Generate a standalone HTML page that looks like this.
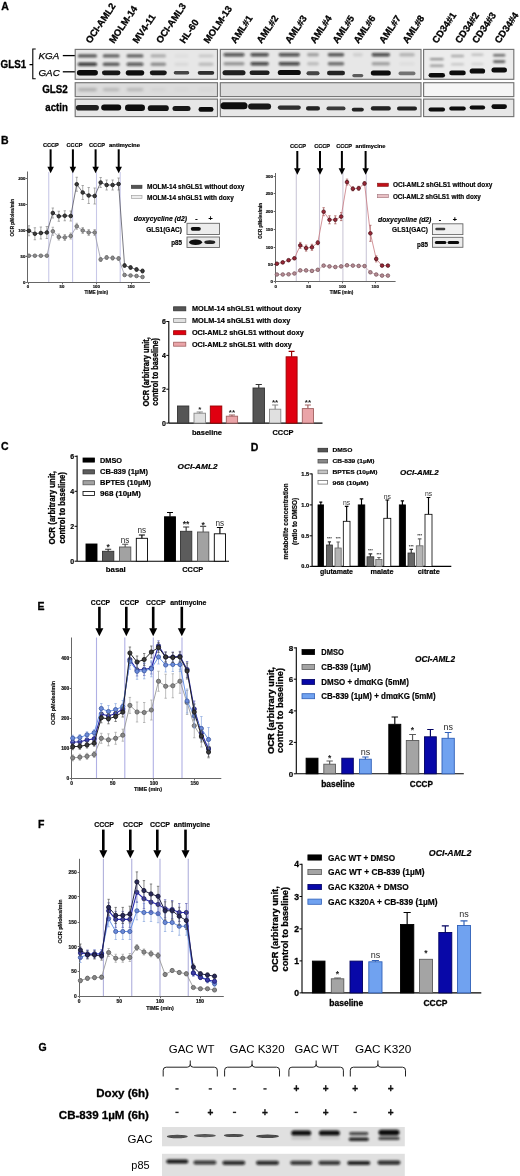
<!DOCTYPE html>
<html><head><meta charset="utf-8"><style>
html,body{margin:0;padding:0;background:#fff;overflow:hidden;}
svg{display:block;filter:blur(0.35px);}
text{font-family:"Liberation Sans",sans-serif;}
.s{stroke:#000;stroke-width:0.3px;paint-order:stroke;stroke-linejoin:round;}
.t{stroke:#000;stroke-width:0.18px;paint-order:stroke;stroke-linejoin:round;}
</style></head><body>
<svg width="520" height="1176" viewBox="0 0 520 1176">
<defs>
<filter id="b1" x="-50%" y="-100%" width="200%" height="300%"><feGaussianBlur stdDeviation="0.9"/></filter>
<filter id="b2" x="-50%" y="-100%" width="200%" height="300%"><feGaussianBlur stdDeviation="1.4"/></filter>
<filter id="b07" x="-50%" y="-100%" width="200%" height="300%"><feGaussianBlur stdDeviation="0.7"/></filter>
<filter id="b05" x="-50%" y="-100%" width="200%" height="300%"><feGaussianBlur stdDeviation="0.5"/></filter>
</defs>
<rect width="520" height="1176" fill="#fff"/>

<text x="1.2" y="10" font-size="10.5" font-weight="bold" class="s">A</text>
<text transform="translate(90.4,44.0) rotate(-56)" font-size="9.5" font-weight="bold" class="s">OCI-AML2</text>
<text transform="translate(113.9,44.0) rotate(-56)" font-size="9.5" font-weight="bold" class="s">MOLM-14</text>
<text transform="translate(137.6,44.0) rotate(-56)" font-size="9.5" font-weight="bold" class="s">MV4-11</text>
<text transform="translate(160.9,44.0) rotate(-56)" font-size="9.5" font-weight="bold" class="s">OCI-AML3</text>
<text transform="translate(184.5,44.0) rotate(-56)" font-size="9.5" font-weight="bold" class="s">HL-60</text>
<text transform="translate(208.6,44.0) rotate(-56)" font-size="9.5" font-weight="bold" class="s">MOLM-13</text>
<text transform="translate(235.6,44.0) rotate(-56)" font-size="9.5" font-weight="bold" class="s">AML#1</text>
<text transform="translate(261.4,44.0) rotate(-56)" font-size="9.5" font-weight="bold" class="s">AML#2</text>
<text transform="translate(289.9,44.0) rotate(-56)" font-size="9.5" font-weight="bold" class="s">AML#3</text>
<text transform="translate(314.9,44.0) rotate(-56)" font-size="9.5" font-weight="bold" class="s">AML#4</text>
<text transform="translate(337.4,44.0) rotate(-56)" font-size="9.5" font-weight="bold" class="s">AML#5</text>
<text transform="translate(358.5,44.0) rotate(-56)" font-size="9.5" font-weight="bold" class="s">AML#6</text>
<text transform="translate(383.9,44.0) rotate(-56)" font-size="9.5" font-weight="bold" class="s">AML#7</text>
<text transform="translate(407.4,44.0) rotate(-56)" font-size="9.5" font-weight="bold" class="s">AML#8</text>
<text transform="translate(437.1,44.0) rotate(-56)" font-size="9.5" font-weight="bold" class="s">CD34#1</text>
<text transform="translate(460.0,44.0) rotate(-56)" font-size="9.5" font-weight="bold" class="s">CD34#2</text>
<text transform="translate(477.0,44.0) rotate(-56)" font-size="9.5" font-weight="bold" class="s">CD34#3</text>
<text transform="translate(499.5,44.0) rotate(-56)" font-size="9.5" font-weight="bold" class="s">CD34#4</text>
<text x="0.6" y="68.2" font-size="10.2" font-weight="bold" class="s" textLength="25.6" lengthAdjust="spacingAndGlyphs">GLS1</text>
<path d="M35.7,49 L32.8,49 L32.8,78.8 L35.7,78.8 M32.8,64.6 L29.5,64.6" fill="none" stroke="#000" stroke-width="1.1"/>
<text x="38.5" y="59.4" font-size="9.8" font-style="italic" stroke="#000" stroke-width="0.25">KGA</text>
<text x="38.5" y="75.6" font-size="9.8" font-style="italic" stroke="#000" stroke-width="0.25">GAC</text>
<line x1="62.8" y1="55.6" x2="75.5" y2="55.6" stroke="#000" stroke-width="1.3"/>
<line x1="62.8" y1="71.8" x2="75.5" y2="71.8" stroke="#000" stroke-width="1.3"/>
<text x="67.8" y="93.2" font-size="10.2" font-weight="bold" class="s" text-anchor="end" textLength="25.6" lengthAdjust="spacingAndGlyphs">GLS2</text>
<text x="67.8" y="110.9" font-size="10.2" font-weight="bold" class="s" text-anchor="end" textLength="22.5" lengthAdjust="spacingAndGlyphs">actin</text>
<rect x="75.2" y="49.4" width="142.3" height="29.9" fill="#e7e7e7" stroke="#747474" stroke-width="1.15"/>
<rect x="75.2" y="82.7" width="142.3" height="13.899999999999991" fill="#dcdcdc" stroke="#747474" stroke-width="1.15"/>
<rect x="75.2" y="99.1" width="142.3" height="17.5" fill="#e7e7e7" stroke="#747474" stroke-width="1.15"/>
<rect x="220.3" y="49.4" width="200.7" height="29.9" fill="#e7e7e7" stroke="#747474" stroke-width="1.15"/>
<rect x="220.3" y="82.7" width="200.7" height="13.899999999999991" fill="#dcdcdc" stroke="#747474" stroke-width="1.15"/>
<rect x="220.3" y="99.1" width="200.7" height="17.5" fill="#e7e7e7" stroke="#747474" stroke-width="1.15"/>
<rect x="423.6" y="49.4" width="90.19999999999993" height="29.9" fill="#ececec" stroke="#747474" stroke-width="1.15"/>
<rect x="423.6" y="82.7" width="90.19999999999993" height="13.899999999999991" fill="#f5f5f5" stroke="#747474" stroke-width="1.15"/>
<rect x="423.6" y="99.1" width="90.19999999999993" height="17.5" fill="#e7e7e7" stroke="#747474" stroke-width="1.15"/>
<rect x="77.74" y="54.20" width="19.32" height="3.40" rx="1.70" fill="#0a0a0a" fill-opacity="0.62" filter="url(#b1)"/>
<rect x="102.69" y="54.20" width="17.02" height="3.40" rx="1.70" fill="#0a0a0a" fill-opacity="0.58" filter="url(#b1)"/>
<rect x="126.49" y="54.20" width="17.02" height="3.40" rx="1.70" fill="#0a0a0a" fill-opacity="0.58" filter="url(#b1)"/>
<rect x="150.48" y="54.20" width="15.64" height="3.40" rx="1.70" fill="#0a0a0a" fill-opacity="0.25" filter="url(#b1)"/>
<rect x="174.37" y="54.20" width="14.26" height="3.40" rx="1.70" fill="#0a0a0a" fill-opacity="0.04" filter="url(#b1)"/>
<rect x="198.41" y="54.20" width="15.18" height="3.40" rx="1.70" fill="#0a0a0a" fill-opacity="0.12" filter="url(#b1)"/>
<rect x="77.74" y="62.50" width="19.32" height="3.60" rx="1.80" fill="#0a0a0a" fill-opacity="0.8" filter="url(#b1)"/>
<rect x="102.69" y="62.50" width="17.02" height="3.60" rx="1.80" fill="#0a0a0a" fill-opacity="0.6" filter="url(#b1)"/>
<rect x="126.49" y="62.50" width="17.02" height="3.60" rx="1.80" fill="#0a0a0a" fill-opacity="0.65" filter="url(#b1)"/>
<rect x="150.48" y="62.50" width="15.64" height="3.60" rx="1.80" fill="#0a0a0a" fill-opacity="0.38" filter="url(#b1)"/>
<rect x="174.37" y="62.50" width="14.26" height="3.60" rx="1.80" fill="#0a0a0a" fill-opacity="0.06" filter="url(#b1)"/>
<rect x="198.41" y="62.50" width="15.18" height="3.60" rx="1.80" fill="#0a0a0a" fill-opacity="0.18" filter="url(#b1)"/>
<rect x="76.90" y="70.10" width="21.00" height="5.40" rx="2.70" fill="#0a0a0a" fill-opacity="1.0" filter="url(#b07)"/>
<rect x="101.95" y="70.40" width="18.50" height="4.80" rx="2.40" fill="#0a0a0a" fill-opacity="0.95" filter="url(#b07)"/>
<rect x="125.75" y="70.20" width="18.50" height="5.20" rx="2.60" fill="#0a0a0a" fill-opacity="1.0" filter="url(#b07)"/>
<rect x="149.80" y="70.40" width="17.00" height="4.80" rx="2.40" fill="#0a0a0a" fill-opacity="0.95" filter="url(#b07)"/>
<rect x="173.75" y="71.00" width="15.50" height="3.60" rx="1.80" fill="#0a0a0a" fill-opacity="0.75" filter="url(#b07)"/>
<rect x="197.75" y="70.90" width="16.50" height="3.80" rx="1.90" fill="#0a0a0a" fill-opacity="0.85" filter="url(#b07)"/>
<rect x="77.95" y="88.20" width="18.90" height="2.80" rx="1.40" fill="#0a0a0a" fill-opacity="0.25" filter="url(#b2)"/>
<rect x="102.88" y="88.20" width="16.65" height="2.80" rx="1.40" fill="#0a0a0a" fill-opacity="0.2" filter="url(#b2)"/>
<rect x="126.67" y="88.20" width="16.65" height="2.80" rx="1.40" fill="#0a0a0a" fill-opacity="0.2" filter="url(#b2)"/>
<rect x="150.65" y="88.20" width="15.30" height="2.80" rx="1.40" fill="#0a0a0a" fill-opacity="0.05" filter="url(#b2)"/>
<rect x="174.53" y="88.20" width="13.95" height="2.80" rx="1.40" fill="#0a0a0a" fill-opacity="0.03" filter="url(#b2)"/>
<rect x="198.57" y="88.20" width="14.85" height="2.80" rx="1.40" fill="#0a0a0a" fill-opacity="0.03" filter="url(#b2)"/>
<rect x="75.90" y="105.00" width="23.00" height="5.60" rx="2.80" fill="#0a0a0a" fill-opacity="0.92" filter="url(#b07)"/>
<rect x="101.20" y="104.60" width="20.00" height="6.00" rx="3.00" fill="#0a0a0a" fill-opacity="1.0" filter="url(#b07)"/>
<rect x="125.00" y="104.60" width="20.00" height="6.40" rx="3.20" fill="#0a0a0a" fill-opacity="1.0" filter="url(#b07)"/>
<rect x="147.80" y="105.30" width="21.00" height="5.80" rx="2.90" fill="#0a0a0a" fill-opacity="0.97" filter="url(#b07)"/>
<rect x="172.50" y="105.90" width="18.00" height="5.00" rx="2.50" fill="#0a0a0a" fill-opacity="0.95" filter="url(#b07)"/>
<rect x="198.50" y="107.10" width="15.00" height="4.60" rx="2.30" fill="#0a0a0a" fill-opacity="1.0" filter="url(#b07)"/>
<rect x="223.42" y="53.10" width="21.16" height="3.40" rx="1.70" fill="#0a0a0a" fill-opacity="0.68" filter="url(#b1)"/>
<rect x="250.40" y="53.10" width="18.40" height="3.40" rx="1.70" fill="#0a0a0a" fill-opacity="0.72" filter="url(#b1)"/>
<rect x="278.72" y="53.10" width="21.16" height="3.40" rx="1.70" fill="#0a0a0a" fill-opacity="0.7" filter="url(#b1)"/>
<rect x="307.02" y="53.10" width="11.96" height="3.40" rx="1.70" fill="#0a0a0a" fill-opacity="0.3" filter="url(#b1)"/>
<rect x="327.72" y="53.10" width="16.56" height="3.40" rx="1.70" fill="#0a0a0a" fill-opacity="0.62" filter="url(#b1)"/>
<rect x="352.74" y="53.10" width="10.12" height="3.40" rx="1.70" fill="#0a0a0a" fill-opacity="0.1" filter="url(#b1)"/>
<rect x="371.60" y="53.10" width="18.40" height="3.40" rx="1.70" fill="#0a0a0a" fill-opacity="0.72" filter="url(#b1)"/>
<rect x="399.18" y="53.10" width="15.64" height="3.40" rx="1.70" fill="#0a0a0a" fill-opacity="0.22" filter="url(#b1)"/>
<rect x="223.42" y="62.10" width="21.16" height="3.40" rx="1.70" fill="#0a0a0a" fill-opacity="0.35" filter="url(#b1)"/>
<rect x="250.40" y="62.10" width="18.40" height="3.40" rx="1.70" fill="#0a0a0a" fill-opacity="0.75" filter="url(#b1)"/>
<rect x="278.72" y="62.10" width="21.16" height="3.40" rx="1.70" fill="#0a0a0a" fill-opacity="0.75" filter="url(#b1)"/>
<rect x="307.02" y="62.10" width="11.96" height="3.40" rx="1.70" fill="#0a0a0a" fill-opacity="0.18" filter="url(#b1)"/>
<rect x="327.72" y="62.10" width="16.56" height="3.40" rx="1.70" fill="#0a0a0a" fill-opacity="0.52" filter="url(#b1)"/>
<rect x="371.60" y="62.10" width="18.40" height="3.40" rx="1.70" fill="#0a0a0a" fill-opacity="0.3" filter="url(#b1)"/>
<rect x="399.18" y="62.10" width="15.64" height="3.40" rx="1.70" fill="#0a0a0a" fill-opacity="0.04" filter="url(#b1)"/>
<rect x="222.50" y="70.30" width="23.00" height="5.00" rx="2.50" fill="#0a0a0a" fill-opacity="0.92" filter="url(#b07)"/>
<rect x="249.60" y="70.50" width="20.00" height="4.60" rx="2.30" fill="#0a0a0a" fill-opacity="0.92" filter="url(#b07)"/>
<rect x="277.80" y="69.90" width="23.00" height="5.20" rx="2.60" fill="#0a0a0a" fill-opacity="1.0" filter="url(#b07)"/>
<rect x="306.50" y="71.20" width="13.00" height="4.00" rx="2.00" fill="#0a0a0a" fill-opacity="0.75" filter="url(#b07)"/>
<rect x="327.00" y="70.80" width="18.00" height="4.40" rx="2.20" fill="#0a0a0a" fill-opacity="0.9" filter="url(#b07)"/>
<rect x="352.30" y="74.00" width="11.00" height="3.20" rx="1.60" fill="#0a0a0a" fill-opacity="0.6" filter="url(#b07)"/>
<rect x="370.80" y="70.50" width="20.00" height="5.00" rx="2.50" fill="#0a0a0a" fill-opacity="1.0" filter="url(#b07)"/>
<rect x="398.50" y="71.60" width="17.00" height="3.60" rx="1.80" fill="#0a0a0a" fill-opacity="0.5" filter="url(#b07)"/>
<rect x="220.50" y="102.30" width="27.00" height="7.00" rx="3.50" fill="#0a0a0a" fill-opacity="1.0" filter="url(#b07)"/>
<rect x="248.10" y="103.60" width="23.00" height="6.00" rx="3.00" fill="#0a0a0a" fill-opacity="0.95" filter="url(#b07)"/>
<rect x="277.80" y="105.50" width="23.00" height="4.20" rx="2.10" fill="#0a0a0a" fill-opacity="0.85" filter="url(#b07)"/>
<rect x="306.00" y="106.30" width="14.00" height="4.20" rx="2.10" fill="#0a0a0a" fill-opacity="0.9" filter="url(#b07)"/>
<rect x="326.50" y="106.50" width="19.00" height="3.80" rx="1.90" fill="#0a0a0a" fill-opacity="0.8" filter="url(#b07)"/>
<rect x="351.80" y="107.70" width="12.00" height="3.80" rx="1.90" fill="#0a0a0a" fill-opacity="0.9" filter="url(#b07)"/>
<rect x="370.80" y="106.30" width="20.00" height="4.20" rx="2.10" fill="#0a0a0a" fill-opacity="0.9" filter="url(#b07)"/>
<rect x="397.00" y="106.40" width="20.00" height="4.00" rx="2.00" fill="#0a0a0a" fill-opacity="0.9" filter="url(#b07)"/>
<rect x="429.79" y="57.90" width="14.03" height="2.40" rx="1.20" fill="#0a0a0a" fill-opacity="0.38" filter="url(#b1)"/>
<rect x="450.91" y="54.80" width="13.17" height="2.40" rx="1.20" fill="#0a0a0a" fill-opacity="0.28" filter="url(#b1)"/>
<rect x="471.24" y="53.50" width="12.32" height="2.40" rx="1.20" fill="#0a0a0a" fill-opacity="0.18" filter="url(#b1)"/>
<rect x="493.04" y="54.00" width="12.32" height="2.40" rx="1.20" fill="#0a0a0a" fill-opacity="0.55" filter="url(#b1)"/>
<rect x="429.79" y="64.50" width="14.03" height="2.60" rx="1.30" fill="#0a0a0a" fill-opacity="0.32" filter="url(#b1)"/>
<rect x="450.91" y="63.00" width="13.17" height="2.60" rx="1.30" fill="#0a0a0a" fill-opacity="0.15" filter="url(#b1)"/>
<rect x="471.24" y="62.70" width="12.32" height="2.60" rx="1.30" fill="#0a0a0a" fill-opacity="0.1" filter="url(#b1)"/>
<rect x="493.04" y="60.30" width="12.32" height="2.60" rx="1.30" fill="#0a0a0a" fill-opacity="0.6" filter="url(#b1)"/>
<rect x="428.55" y="73.00" width="16.50" height="4.60" rx="2.30" fill="#0a0a0a" fill-opacity="1.0" filter="url(#b07)"/>
<rect x="449.25" y="70.60" width="16.50" height="4.60" rx="2.30" fill="#0a0a0a" fill-opacity="1.0" filter="url(#b07)"/>
<rect x="469.65" y="68.40" width="15.50" height="5.20" rx="2.60" fill="#0a0a0a" fill-opacity="1.0" filter="url(#b07)"/>
<rect x="491.45" y="67.50" width="15.50" height="5.00" rx="2.50" fill="#0a0a0a" fill-opacity="1.0" filter="url(#b07)"/>
<rect x="428.55" y="107.50" width="16.50" height="4.00" rx="2.00" fill="#0a0a0a" fill-opacity="1.0" filter="url(#b07)"/>
<rect x="449.25" y="106.50" width="16.50" height="4.00" rx="2.00" fill="#0a0a0a" fill-opacity="1.0" filter="url(#b07)"/>
<rect x="469.65" y="105.40" width="15.50" height="4.20" rx="2.10" fill="#0a0a0a" fill-opacity="1.0" filter="url(#b07)"/>
<rect x="491.45" y="104.30" width="15.50" height="4.60" rx="2.30" fill="#0a0a0a" fill-opacity="1.0" filter="url(#b07)"/>
<text x="1.0" y="144.2" font-size="10.5" font-weight="bold" class="s">B</text>
<line x1="48.75" y1="172" x2="48.75" y2="282.3" stroke="#c8c8e8" stroke-width="1.1"/>
<line x1="72.6" y1="172" x2="72.6" y2="282.3" stroke="#c8c8e8" stroke-width="1.1"/>
<line x1="96.5" y1="172" x2="96.5" y2="282.3" stroke="#c8c8e8" stroke-width="1.1"/>
<line x1="120.2" y1="172" x2="120.2" y2="282.3" stroke="#c8c8e8" stroke-width="1.1"/>
<line x1="27.5" y1="171.5" x2="27.5" y2="282.5" stroke="#666" stroke-width="1"/>
<line x1="27.5" y1="282.5" x2="150" y2="282.5" stroke="#666" stroke-width="1"/>
<line x1="25.7" y1="178.5" x2="27.5" y2="178.5" stroke="#666" stroke-width="1"/>
<text x="25.4" y="179.548" font-size="4.3" font-weight="bold" class="t" text-anchor="end" fill="#111">200</text>
<line x1="25.7" y1="204.5" x2="27.5" y2="204.5" stroke="#666" stroke-width="1"/>
<text x="25.4" y="205.648" font-size="4.3" font-weight="bold" class="t" text-anchor="end" fill="#111">150</text>
<line x1="25.7" y1="230.5" x2="27.5" y2="230.5" stroke="#666" stroke-width="1"/>
<text x="25.4" y="231.848" font-size="4.3" font-weight="bold" class="t" text-anchor="end" fill="#111">100</text>
<line x1="25.7" y1="256.5" x2="27.5" y2="256.5" stroke="#666" stroke-width="1"/>
<text x="25.4" y="257.648" font-size="4.3" font-weight="bold" class="t" text-anchor="end" fill="#111">50</text>
<line x1="25.7" y1="282.5" x2="27.5" y2="282.5" stroke="#666" stroke-width="1"/>
<text x="25.4" y="283.848" font-size="4.3" font-weight="bold" class="t" text-anchor="end" fill="#111">0</text>
<line x1="28.5" y1="282.5" x2="28.5" y2="284.3" stroke="#666" stroke-width="1"/>
<text x="28" y="288.12500000000006" font-size="4.3" font-weight="bold" class="t" text-anchor="middle" fill="#111">0</text>
<line x1="62.5" y1="282.5" x2="62.5" y2="284.3" stroke="#666" stroke-width="1"/>
<text x="62" y="288.12500000000006" font-size="4.3" font-weight="bold" class="t" text-anchor="middle" fill="#111">50</text>
<line x1="96.5" y1="282.5" x2="96.5" y2="284.3" stroke="#666" stroke-width="1"/>
<text x="96.25" y="288.12500000000006" font-size="4.3" font-weight="bold" class="t" text-anchor="middle" fill="#111">100</text>
<line x1="131.5" y1="282.5" x2="131.5" y2="284.3" stroke="#666" stroke-width="1"/>
<text x="131" y="288.12500000000006" font-size="4.3" font-weight="bold" class="t" text-anchor="middle" fill="#111">150</text>
<text transform="translate(14.0,217.6) rotate(-90)" font-size="4.8" font-weight="bold" class="t" text-anchor="middle" textLength="37.6" lengthAdjust="spacingAndGlyphs" fill="#111">OCR pMoles/min</text>
<text x="96.3" y="294" font-size="4.8" font-weight="bold" class="t" text-anchor="middle" textLength="23.5" lengthAdjust="spacingAndGlyphs" fill="#111">TIME (min)</text>
<path d="M28.90,254.75 L28.90,256.75 M27.70,254.75 L30.10,254.75 M27.70,256.75 L30.10,256.75" stroke="#999" stroke-width="0.7" fill="none"/>
<path d="M52.82,227.25 L52.82,235.25 M51.62,227.25 L54.02,227.25 M51.62,235.25 L54.02,235.25" stroke="#999" stroke-width="0.7" fill="none"/>
<path d="M58.80,234.00 L58.80,240.00 M57.60,234.00 L60.00,234.00 M57.60,240.00 L60.00,240.00" stroke="#999" stroke-width="0.7" fill="none"/>
<path d="M64.78,234.50 L64.78,240.50 M63.58,234.50 L65.98,234.50 M63.58,240.50 L65.98,240.50" stroke="#999" stroke-width="0.7" fill="none"/>
<path d="M70.76,233.00 L70.76,239.00 M69.56,233.00 L71.96,233.00 M69.56,239.00 L71.96,239.00" stroke="#999" stroke-width="0.7" fill="none"/>
<path d="M76.74,223.25 L76.74,229.25 M75.54,223.25 L77.94,223.25 M75.54,229.25 L77.94,229.25" stroke="#999" stroke-width="0.7" fill="none"/>
<path d="M82.72,227.50 L82.72,233.50 M81.52,227.50 L83.92,227.50 M81.52,233.50 L83.92,233.50" stroke="#999" stroke-width="0.7" fill="none"/>
<path d="M88.70,229.50 L88.70,235.50 M87.50,229.50 L89.90,229.50 M87.50,235.50 L89.90,235.50" stroke="#999" stroke-width="0.7" fill="none"/>
<path d="M94.68,229.50 L94.68,235.50 M93.48,229.50 L95.88,229.50 M93.48,235.50 L95.88,235.50" stroke="#999" stroke-width="0.7" fill="none"/>
<path d="M100.66,257.50 L100.66,261.50 M99.46,257.50 L101.86,257.50 M99.46,261.50 L101.86,261.50" stroke="#999" stroke-width="0.7" fill="none"/>
<path d="M106.64,255.50 L106.64,259.50 M105.44,255.50 L107.84,255.50 M105.44,259.50 L107.84,259.50" stroke="#999" stroke-width="0.7" fill="none"/>
<path d="M112.62,256.00 L112.62,260.00 M111.42,256.00 L113.82,256.00 M111.42,260.00 L113.82,260.00" stroke="#999" stroke-width="0.7" fill="none"/>
<path d="M118.60,256.50 L118.60,260.50 M117.40,256.50 L119.80,256.50 M117.40,260.50 L119.80,260.50" stroke="#999" stroke-width="0.7" fill="none"/>
<path d="M124.58,274.00 L124.58,276.00 M123.38,274.00 L125.78,274.00 M123.38,276.00 L125.78,276.00" stroke="#999" stroke-width="0.7" fill="none"/>
<path d="M130.56,274.50 L130.56,276.50 M129.36,274.50 L131.76,274.50 M129.36,276.50 L131.76,276.50" stroke="#999" stroke-width="0.7" fill="none"/>
<path d="M136.54,275.00 L136.54,277.00 M135.34,275.00 L137.74,275.00 M135.34,277.00 L137.74,277.00" stroke="#999" stroke-width="0.7" fill="none"/>
<path d="M142.52,276.00 L142.52,278.00 M141.32,276.00 L143.72,276.00 M141.32,278.00 L143.72,278.00" stroke="#999" stroke-width="0.7" fill="none"/>
<polyline points="28.90,255.75 34.88,255.75 40.86,255.75 46.84,255.75 52.82,231.25 58.80,237.00 64.78,237.50 70.76,236.00 76.74,226.25 82.72,230.50 88.70,232.50 94.68,232.50 100.66,259.50 106.64,257.50 112.62,258.00 118.60,258.50 124.58,275.00 130.56,275.50 136.54,276.00 142.52,277.00" fill="none" stroke="#9a9aa8" stroke-width="0.8"/>
<circle cx="28.90" cy="255.75" r="1.8" fill="#8c8c8c" stroke="#606060" stroke-width="0.8"/>
<circle cx="34.88" cy="255.75" r="1.8" fill="#8c8c8c" stroke="#606060" stroke-width="0.8"/>
<circle cx="40.86" cy="255.75" r="1.8" fill="#8c8c8c" stroke="#606060" stroke-width="0.8"/>
<circle cx="46.84" cy="255.75" r="1.8" fill="#8c8c8c" stroke="#606060" stroke-width="0.8"/>
<circle cx="52.82" cy="231.25" r="1.8" fill="#8c8c8c" stroke="#606060" stroke-width="0.8"/>
<circle cx="58.80" cy="237.00" r="1.8" fill="#8c8c8c" stroke="#606060" stroke-width="0.8"/>
<circle cx="64.78" cy="237.50" r="1.8" fill="#8c8c8c" stroke="#606060" stroke-width="0.8"/>
<circle cx="70.76" cy="236.00" r="1.8" fill="#8c8c8c" stroke="#606060" stroke-width="0.8"/>
<circle cx="76.74" cy="226.25" r="1.8" fill="#8c8c8c" stroke="#606060" stroke-width="0.8"/>
<circle cx="82.72" cy="230.50" r="1.8" fill="#8c8c8c" stroke="#606060" stroke-width="0.8"/>
<circle cx="88.70" cy="232.50" r="1.8" fill="#8c8c8c" stroke="#606060" stroke-width="0.8"/>
<circle cx="94.68" cy="232.50" r="1.8" fill="#8c8c8c" stroke="#606060" stroke-width="0.8"/>
<circle cx="100.66" cy="259.50" r="1.8" fill="#8c8c8c" stroke="#606060" stroke-width="0.8"/>
<circle cx="106.64" cy="257.50" r="1.8" fill="#8c8c8c" stroke="#606060" stroke-width="0.8"/>
<circle cx="112.62" cy="258.00" r="1.8" fill="#8c8c8c" stroke="#606060" stroke-width="0.8"/>
<circle cx="118.60" cy="258.50" r="1.8" fill="#8c8c8c" stroke="#606060" stroke-width="0.8"/>
<circle cx="124.58" cy="275.00" r="1.8" fill="#8c8c8c" stroke="#606060" stroke-width="0.8"/>
<circle cx="130.56" cy="275.50" r="1.8" fill="#8c8c8c" stroke="#606060" stroke-width="0.8"/>
<circle cx="136.54" cy="276.00" r="1.8" fill="#8c8c8c" stroke="#606060" stroke-width="0.8"/>
<circle cx="142.52" cy="277.00" r="1.8" fill="#8c8c8c" stroke="#606060" stroke-width="0.8"/>
<path d="M28.90,225.75 L28.90,235.75 M27.70,225.75 L30.10,225.75 M27.70,235.75 L30.10,235.75" stroke="#888" stroke-width="0.7" fill="none"/>
<path d="M34.88,227.75 L34.88,239.75 M33.68,227.75 L36.08,227.75 M33.68,239.75 L36.08,239.75" stroke="#888" stroke-width="0.7" fill="none"/>
<path d="M40.86,227.00 L40.86,239.00 M39.66,227.00 L42.06,227.00 M39.66,239.00 L42.06,239.00" stroke="#888" stroke-width="0.7" fill="none"/>
<path d="M46.84,226.50 L46.84,238.50 M45.64,226.50 L48.04,226.50 M45.64,238.50 L48.04,238.50" stroke="#888" stroke-width="0.7" fill="none"/>
<path d="M52.82,208.00 L52.82,218.00 M51.62,208.00 L54.02,208.00 M51.62,218.00 L54.02,218.00" stroke="#888" stroke-width="0.7" fill="none"/>
<path d="M58.80,211.25 L58.80,221.25 M57.60,211.25 L60.00,211.25 M57.60,221.25 L60.00,221.25" stroke="#888" stroke-width="0.7" fill="none"/>
<path d="M64.78,210.75 L64.78,220.75 M63.58,210.75 L65.98,210.75 M63.58,220.75 L65.98,220.75" stroke="#888" stroke-width="0.7" fill="none"/>
<path d="M70.76,211.00 L70.76,221.00 M69.56,211.00 L71.96,211.00 M69.56,221.00 L71.96,221.00" stroke="#888" stroke-width="0.7" fill="none"/>
<path d="M76.74,177.25 L76.74,191.25 M75.54,177.25 L77.94,177.25 M75.54,191.25 L77.94,191.25" stroke="#888" stroke-width="0.7" fill="none"/>
<path d="M82.72,185.50 L82.72,199.50 M81.52,185.50 L83.92,185.50 M81.52,199.50 L83.92,199.50" stroke="#888" stroke-width="0.7" fill="none"/>
<path d="M88.70,187.50 L88.70,203.50 M87.50,187.50 L89.90,187.50 M87.50,203.50 L89.90,203.50" stroke="#888" stroke-width="0.7" fill="none"/>
<path d="M94.68,188.00 L94.68,204.00 M93.48,188.00 L95.88,188.00 M93.48,204.00 L95.88,204.00" stroke="#888" stroke-width="0.7" fill="none"/>
<path d="M100.66,177.50 L100.66,187.50 M99.46,177.50 L101.86,177.50 M99.46,187.50 L101.86,187.50" stroke="#888" stroke-width="0.7" fill="none"/>
<path d="M106.64,180.00 L106.64,190.00 M105.44,180.00 L107.84,180.00 M105.44,190.00 L107.84,190.00" stroke="#888" stroke-width="0.7" fill="none"/>
<path d="M112.62,180.00 L112.62,190.00 M111.42,180.00 L113.82,180.00 M111.42,190.00 L113.82,190.00" stroke="#888" stroke-width="0.7" fill="none"/>
<path d="M118.60,178.00 L118.60,190.00 M117.40,178.00 L119.80,178.00 M117.40,190.00 L119.80,190.00" stroke="#888" stroke-width="0.7" fill="none"/>
<path d="M124.58,263.50 L124.58,267.50 M123.38,263.50 L125.78,263.50 M123.38,267.50 L125.78,267.50" stroke="#888" stroke-width="0.7" fill="none"/>
<path d="M130.56,265.50 L130.56,269.50 M129.36,265.50 L131.76,265.50 M129.36,269.50 L131.76,269.50" stroke="#888" stroke-width="0.7" fill="none"/>
<path d="M136.54,267.50 L136.54,271.50 M135.34,267.50 L137.74,267.50 M135.34,271.50 L137.74,271.50" stroke="#888" stroke-width="0.7" fill="none"/>
<path d="M142.52,269.00 L142.52,273.00 M141.32,269.00 L143.72,269.00 M141.32,273.00 L143.72,273.00" stroke="#888" stroke-width="0.7" fill="none"/>
<polyline points="28.90,230.75 34.88,233.75 40.86,233.00 46.84,232.50 52.82,213.00 58.80,216.25 64.78,215.75 70.76,216.00 76.74,184.25 82.72,192.50 88.70,195.50 94.68,196.00 100.66,182.50 106.64,185.00 112.62,185.00 118.60,184.00 124.58,265.50 130.56,267.50 136.54,269.50 142.52,271.00" fill="none" stroke="#555560" stroke-width="0.8"/>
<circle cx="28.90" cy="230.75" r="1.8" fill="#3c3c3c" stroke="#111" stroke-width="0.8"/>
<circle cx="34.88" cy="233.75" r="1.8" fill="#3c3c3c" stroke="#111" stroke-width="0.8"/>
<circle cx="40.86" cy="233.00" r="1.8" fill="#3c3c3c" stroke="#111" stroke-width="0.8"/>
<circle cx="46.84" cy="232.50" r="1.8" fill="#3c3c3c" stroke="#111" stroke-width="0.8"/>
<circle cx="52.82" cy="213.00" r="1.8" fill="#3c3c3c" stroke="#111" stroke-width="0.8"/>
<circle cx="58.80" cy="216.25" r="1.8" fill="#3c3c3c" stroke="#111" stroke-width="0.8"/>
<circle cx="64.78" cy="215.75" r="1.8" fill="#3c3c3c" stroke="#111" stroke-width="0.8"/>
<circle cx="70.76" cy="216.00" r="1.8" fill="#3c3c3c" stroke="#111" stroke-width="0.8"/>
<circle cx="76.74" cy="184.25" r="1.8" fill="#3c3c3c" stroke="#111" stroke-width="0.8"/>
<circle cx="82.72" cy="192.50" r="1.8" fill="#3c3c3c" stroke="#111" stroke-width="0.8"/>
<circle cx="88.70" cy="195.50" r="1.8" fill="#3c3c3c" stroke="#111" stroke-width="0.8"/>
<circle cx="94.68" cy="196.00" r="1.8" fill="#3c3c3c" stroke="#111" stroke-width="0.8"/>
<circle cx="100.66" cy="182.50" r="1.8" fill="#3c3c3c" stroke="#111" stroke-width="0.8"/>
<circle cx="106.64" cy="185.00" r="1.8" fill="#3c3c3c" stroke="#111" stroke-width="0.8"/>
<circle cx="112.62" cy="185.00" r="1.8" fill="#3c3c3c" stroke="#111" stroke-width="0.8"/>
<circle cx="118.60" cy="184.00" r="1.8" fill="#3c3c3c" stroke="#111" stroke-width="0.8"/>
<circle cx="124.58" cy="265.50" r="1.8" fill="#3c3c3c" stroke="#111" stroke-width="0.8"/>
<circle cx="130.56" cy="267.50" r="1.8" fill="#3c3c3c" stroke="#111" stroke-width="0.8"/>
<circle cx="136.54" cy="269.50" r="1.8" fill="#3c3c3c" stroke="#111" stroke-width="0.8"/>
<circle cx="142.52" cy="271.00" r="1.8" fill="#3c3c3c" stroke="#111" stroke-width="0.8"/>
<text x="50.9" y="146.6" font-size="5.2" font-weight="bold" class="t" text-anchor="middle" textLength="15.8" lengthAdjust="spacingAndGlyphs">CCCP</text>
<text x="74.5" y="146.6" font-size="5.2" font-weight="bold" class="t" text-anchor="middle" textLength="15.8" lengthAdjust="spacingAndGlyphs">CCCP</text>
<text x="97" y="146.6" font-size="5.2" font-weight="bold" class="t" text-anchor="middle" textLength="15.8" lengthAdjust="spacingAndGlyphs">CCCP</text>
<text x="124.5" y="146.6" font-size="5.2" font-weight="bold" class="t" text-anchor="middle" textLength="31" lengthAdjust="spacingAndGlyphs">antimycine</text>
<rect x="49.6" y="149.3" width="2.0" height="17.899999999999977" fill="#000"/>
<path d="M47.35,166.7 L53.85,166.7 L50.6,173.2 Z" fill="#000"/>
<rect x="71.9" y="149.3" width="2.0" height="17.899999999999977" fill="#000"/>
<path d="M69.65,166.7 L76.15,166.7 L72.9,173.2 Z" fill="#000"/>
<rect x="94.6" y="149.3" width="2.0" height="17.899999999999977" fill="#000"/>
<path d="M92.35,166.7 L98.85,166.7 L95.6,173.2 Z" fill="#000"/>
<rect x="117.7" y="149.3" width="2.0" height="17.899999999999977" fill="#000"/>
<path d="M115.45,166.7 L121.95,166.7 L118.7,173.2 Z" fill="#000"/>
<rect x="131.3" y="185.2" width="10.7" height="3.2" fill="#555" stroke="#333" stroke-width="0.6"/>
<rect x="131.3" y="195.4" width="10.7" height="3.2" fill="#ececec" stroke="#999" stroke-width="0.6"/>
<text x="147" y="189.3" font-size="7" font-weight="bold" class="t" textLength="97.5" lengthAdjust="spacingAndGlyphs">MOLM-14 shGLS1 without doxy</text>
<text x="147" y="199.5" font-size="7" font-weight="bold" class="t" textLength="86.8" lengthAdjust="spacingAndGlyphs">MOLM-14 shGLS1 with doxy</text>
<text x="133.8" y="220.8" font-size="7" font-style="italic" font-weight="bold" class="t" textLength="53.2" lengthAdjust="spacingAndGlyphs">doxycycline (d2)</text>
<text x="196.3" y="220.8" font-size="7" font-weight="bold" class="t" text-anchor="middle">-</text>
<text x="210.5" y="220.8" font-size="7" font-weight="bold" class="t" text-anchor="middle">+</text>
<text x="182" y="232.1" font-size="7" font-weight="bold" class="t" text-anchor="end" textLength="35.8" lengthAdjust="spacingAndGlyphs">GLS1(GAC)</text>
<text x="182" y="245.1" font-size="7" font-weight="bold" class="t" text-anchor="end" textLength="10.8" lengthAdjust="spacingAndGlyphs">p85</text>
<rect x="187" y="223.3" width="32.5" height="11.2" fill="#ececec" stroke="#666" stroke-width="0.9"/>
<rect x="187" y="237" width="32.5" height="10.5" fill="#e8e8e8" stroke="#666" stroke-width="0.9"/>
<rect x="190.80" y="226.90" width="10.00" height="3.80" rx="1.90" fill="#0a0a0a" fill-opacity="1.0" filter="url(#b07)"/>
<ellipse cx="195.60" cy="242.20" rx="6.50" ry="2.80" fill="#0a0a0a" fill-opacity="1.0" filter="url(#b07)"/>
<ellipse cx="209.80" cy="242.20" rx="5.50" ry="1.90" fill="#0a0a0a" fill-opacity="0.9" filter="url(#b07)"/>
<line x1="296.3" y1="172" x2="296.3" y2="281.7" stroke="#ccc8d8" stroke-width="1.1"/>
<line x1="319.5" y1="172" x2="319.5" y2="281.7" stroke="#ccc8d8" stroke-width="1.1"/>
<line x1="342.9" y1="172" x2="342.9" y2="281.7" stroke="#ccc8d8" stroke-width="1.1"/>
<line x1="366.3" y1="172" x2="366.3" y2="281.7" stroke="#ccc8d8" stroke-width="1.1"/>
<line x1="275.5" y1="173" x2="275.5" y2="281.5" stroke="#666" stroke-width="1"/>
<line x1="275.5" y1="281.5" x2="395.6" y2="281.5" stroke="#666" stroke-width="1"/>
<line x1="273.7" y1="176.5" x2="275.5" y2="176.5" stroke="#666" stroke-width="1"/>
<text x="272.9" y="177.848" font-size="4.3" font-weight="bold" class="t" text-anchor="end" fill="#111">300</text>
<line x1="273.7" y1="193.5" x2="275.5" y2="193.5" stroke="#666" stroke-width="1"/>
<text x="272.9" y="195.148" font-size="4.3" font-weight="bold" class="t" text-anchor="end" fill="#111">250</text>
<line x1="273.7" y1="211.5" x2="275.5" y2="211.5" stroke="#666" stroke-width="1"/>
<text x="272.9" y="212.848" font-size="4.3" font-weight="bold" class="t" text-anchor="end" fill="#111">200</text>
<line x1="273.7" y1="229.5" x2="275.5" y2="229.5" stroke="#666" stroke-width="1"/>
<text x="272.9" y="230.848" font-size="4.3" font-weight="bold" class="t" text-anchor="end" fill="#111">150</text>
<line x1="273.7" y1="247.5" x2="275.5" y2="247.5" stroke="#666" stroke-width="1"/>
<text x="272.9" y="248.548" font-size="4.3" font-weight="bold" class="t" text-anchor="end" fill="#111">100</text>
<line x1="273.7" y1="264.5" x2="275.5" y2="264.5" stroke="#666" stroke-width="1"/>
<text x="272.9" y="265.648" font-size="4.3" font-weight="bold" class="t" text-anchor="end" fill="#111">50</text>
<line x1="273.7" y1="281.5" x2="275.5" y2="281.5" stroke="#666" stroke-width="1"/>
<text x="272.9" y="283.348" font-size="4.3" font-weight="bold" class="t" text-anchor="end" fill="#111">0</text>
<line x1="275.5" y1="281.5" x2="275.5" y2="283.3" stroke="#666" stroke-width="1"/>
<text x="275.6" y="287.62500000000006" font-size="4.3" font-weight="bold" class="t" text-anchor="middle" fill="#111">0</text>
<line x1="308.5" y1="281.5" x2="308.5" y2="283.3" stroke="#666" stroke-width="1"/>
<text x="308.7" y="287.62500000000006" font-size="4.3" font-weight="bold" class="t" text-anchor="middle" fill="#111">50</text>
<line x1="342.5" y1="281.5" x2="342.5" y2="283.3" stroke="#666" stroke-width="1"/>
<text x="342.4" y="287.62500000000006" font-size="4.3" font-weight="bold" class="t" text-anchor="middle" fill="#111">100</text>
<line x1="375.5" y1="281.5" x2="375.5" y2="283.3" stroke="#666" stroke-width="1"/>
<text x="375.2" y="287.62500000000006" font-size="4.3" font-weight="bold" class="t" text-anchor="middle" fill="#111">150</text>
<text transform="translate(262.0,220.9) rotate(-90)" font-size="4.8" font-weight="bold" class="t" text-anchor="middle" textLength="35.6" lengthAdjust="spacingAndGlyphs" fill="#111">OCR pMoles/min</text>
<text x="341.5" y="293.5" font-size="4.8" font-weight="bold" class="t" text-anchor="middle" textLength="23.5" lengthAdjust="spacingAndGlyphs" fill="#111">TIME (min)</text>
<path d="M276.90,273.50 L276.90,275.50 M275.70,273.50 L278.10,273.50 M275.70,275.50 L278.10,275.50" stroke="#b08080" stroke-width="0.7" fill="none"/>
<path d="M300.27,269.40 L300.27,271.40 M299.07,269.40 L301.47,269.40 M299.07,271.40 L301.47,271.40" stroke="#b08080" stroke-width="0.7" fill="none"/>
<path d="M306.11,269.40 L306.11,271.40 M304.91,269.40 L307.31,269.40 M304.91,271.40 L307.31,271.40" stroke="#b08080" stroke-width="0.7" fill="none"/>
<path d="M311.95,269.90 L311.95,271.90 M310.75,269.90 L313.15,269.90 M310.75,271.90 L313.15,271.90" stroke="#b08080" stroke-width="0.7" fill="none"/>
<path d="M317.79,268.80 L317.79,270.80 M316.59,268.80 L318.99,268.80 M316.59,270.80 L318.99,270.80" stroke="#b08080" stroke-width="0.7" fill="none"/>
<path d="M323.64,264.60 L323.64,266.60 M322.44,264.60 L324.84,264.60 M322.44,266.60 L324.84,266.60" stroke="#b08080" stroke-width="0.7" fill="none"/>
<path d="M329.48,265.40 L329.48,267.40 M328.28,265.40 L330.68,265.40 M328.28,267.40 L330.68,267.40" stroke="#b08080" stroke-width="0.7" fill="none"/>
<path d="M335.32,266.00 L335.32,268.00 M334.12,266.00 L336.52,266.00 M334.12,268.00 L336.52,268.00" stroke="#b08080" stroke-width="0.7" fill="none"/>
<path d="M341.16,265.40 L341.16,267.40 M339.96,265.40 L342.36,265.40 M339.96,267.40 L342.36,267.40" stroke="#b08080" stroke-width="0.7" fill="none"/>
<path d="M347.00,264.30 L347.00,266.30 M345.80,264.30 L348.20,264.30 M345.80,266.30 L348.20,266.30" stroke="#b08080" stroke-width="0.7" fill="none"/>
<path d="M352.85,264.60 L352.85,266.60 M351.65,264.60 L354.05,264.60 M351.65,266.60 L354.05,266.60" stroke="#b08080" stroke-width="0.7" fill="none"/>
<path d="M358.69,264.90 L358.69,266.90 M357.49,264.90 L359.89,264.90 M357.49,266.90 L359.89,266.90" stroke="#b08080" stroke-width="0.7" fill="none"/>
<path d="M364.53,265.10 L364.53,267.10 M363.33,265.10 L365.73,265.10 M363.33,267.10 L365.73,267.10" stroke="#b08080" stroke-width="0.7" fill="none"/>
<path d="M370.37,271.30 L370.37,273.30 M369.17,271.30 L371.57,271.30 M369.17,273.30 L371.57,273.30" stroke="#b08080" stroke-width="0.7" fill="none"/>
<path d="M376.21,273.50 L376.21,275.50 M375.01,273.50 L377.41,273.50 M375.01,275.50 L377.41,275.50" stroke="#b08080" stroke-width="0.7" fill="none"/>
<path d="M382.06,274.60 L382.06,276.60 M380.86,274.60 L383.26,274.60 M380.86,276.60 L383.26,276.60" stroke="#b08080" stroke-width="0.7" fill="none"/>
<path d="M387.90,274.60 L387.90,276.60 M386.70,274.60 L389.10,274.60 M386.70,276.60 L389.10,276.60" stroke="#b08080" stroke-width="0.7" fill="none"/>
<polyline points="276.90,274.50 282.74,274.50 288.58,274.30 294.43,273.50 300.27,270.40 306.11,270.40 311.95,270.90 317.79,269.80 323.64,265.60 329.48,266.40 335.32,267.00 341.16,266.40 347.00,265.30 352.85,265.60 358.69,265.90 364.53,266.10 370.37,272.30 376.21,274.50 382.06,275.60 387.90,275.60" fill="none" stroke="#d0a8b0" stroke-width="0.8"/>
<circle cx="276.90" cy="274.50" r="1.8" fill="#b48c94" stroke="#7a5860" stroke-width="0.8"/>
<circle cx="282.74" cy="274.50" r="1.8" fill="#b48c94" stroke="#7a5860" stroke-width="0.8"/>
<circle cx="288.58" cy="274.30" r="1.8" fill="#b48c94" stroke="#7a5860" stroke-width="0.8"/>
<circle cx="294.43" cy="273.50" r="1.8" fill="#b48c94" stroke="#7a5860" stroke-width="0.8"/>
<circle cx="300.27" cy="270.40" r="1.8" fill="#b48c94" stroke="#7a5860" stroke-width="0.8"/>
<circle cx="306.11" cy="270.40" r="1.8" fill="#b48c94" stroke="#7a5860" stroke-width="0.8"/>
<circle cx="311.95" cy="270.90" r="1.8" fill="#b48c94" stroke="#7a5860" stroke-width="0.8"/>
<circle cx="317.79" cy="269.80" r="1.8" fill="#b48c94" stroke="#7a5860" stroke-width="0.8"/>
<circle cx="323.64" cy="265.60" r="1.8" fill="#b48c94" stroke="#7a5860" stroke-width="0.8"/>
<circle cx="329.48" cy="266.40" r="1.8" fill="#b48c94" stroke="#7a5860" stroke-width="0.8"/>
<circle cx="335.32" cy="267.00" r="1.8" fill="#b48c94" stroke="#7a5860" stroke-width="0.8"/>
<circle cx="341.16" cy="266.40" r="1.8" fill="#b48c94" stroke="#7a5860" stroke-width="0.8"/>
<circle cx="347.00" cy="265.30" r="1.8" fill="#b48c94" stroke="#7a5860" stroke-width="0.8"/>
<circle cx="352.85" cy="265.60" r="1.8" fill="#b48c94" stroke="#7a5860" stroke-width="0.8"/>
<circle cx="358.69" cy="265.90" r="1.8" fill="#b48c94" stroke="#7a5860" stroke-width="0.8"/>
<circle cx="364.53" cy="266.10" r="1.8" fill="#b48c94" stroke="#7a5860" stroke-width="0.8"/>
<circle cx="370.37" cy="272.30" r="1.8" fill="#b48c94" stroke="#7a5860" stroke-width="0.8"/>
<circle cx="376.21" cy="274.50" r="1.8" fill="#b48c94" stroke="#7a5860" stroke-width="0.8"/>
<circle cx="382.06" cy="275.60" r="1.8" fill="#b48c94" stroke="#7a5860" stroke-width="0.8"/>
<circle cx="387.90" cy="275.60" r="1.8" fill="#b48c94" stroke="#7a5860" stroke-width="0.8"/>
<path d="M276.90,262.70 L276.90,264.70 M275.70,262.70 L278.10,262.70 M275.70,264.70 L278.10,264.70" stroke="#a05050" stroke-width="0.7" fill="none"/>
<path d="M282.74,261.40 L282.74,263.40 M281.54,261.40 L283.94,261.40 M281.54,263.40 L283.94,263.40" stroke="#a05050" stroke-width="0.7" fill="none"/>
<path d="M288.58,259.20 L288.58,261.20 M287.38,259.20 L289.78,259.20 M287.38,261.20 L289.78,261.20" stroke="#a05050" stroke-width="0.7" fill="none"/>
<path d="M294.43,257.30 L294.43,259.30 M293.23,257.30 L295.63,257.30 M293.23,259.30 L295.63,259.30" stroke="#a05050" stroke-width="0.7" fill="none"/>
<path d="M300.27,242.40 L300.27,248.40 M299.07,242.40 L301.47,242.40 M299.07,248.40 L301.47,248.40" stroke="#a05050" stroke-width="0.7" fill="none"/>
<path d="M306.11,245.10 L306.11,251.10 M304.91,245.10 L307.31,245.10 M304.91,251.10 L307.31,251.10" stroke="#a05050" stroke-width="0.7" fill="none"/>
<path d="M311.95,244.30 L311.95,250.30 M310.75,244.30 L313.15,244.30 M310.75,250.30 L313.15,250.30" stroke="#a05050" stroke-width="0.7" fill="none"/>
<path d="M317.79,240.70 L317.79,244.70 M316.59,240.70 L318.99,240.70 M316.59,244.70 L318.99,244.70" stroke="#a05050" stroke-width="0.7" fill="none"/>
<path d="M323.64,207.70 L323.64,215.70 M322.44,207.70 L324.84,207.70 M322.44,215.70 L324.84,215.70" stroke="#a05050" stroke-width="0.7" fill="none"/>
<path d="M329.48,215.80 L329.48,223.80 M328.28,215.80 L330.68,215.80 M328.28,223.80 L330.68,223.80" stroke="#a05050" stroke-width="0.7" fill="none"/>
<path d="M335.32,215.80 L335.32,223.80 M334.12,215.80 L336.52,215.80 M334.12,223.80 L336.52,223.80" stroke="#a05050" stroke-width="0.7" fill="none"/>
<path d="M341.16,212.60 L341.16,220.60 M339.96,212.60 L342.36,212.60 M339.96,220.60 L342.36,220.60" stroke="#a05050" stroke-width="0.7" fill="none"/>
<path d="M347.00,179.10 L347.00,185.10 M345.80,179.10 L348.20,179.10 M345.80,185.10 L348.20,185.10" stroke="#a05050" stroke-width="0.7" fill="none"/>
<path d="M352.85,186.80 L352.85,190.80 M351.65,186.80 L354.05,186.80 M351.65,190.80 L354.05,190.80" stroke="#a05050" stroke-width="0.7" fill="none"/>
<path d="M358.69,186.30 L358.69,190.30 M357.49,186.30 L359.89,186.30 M357.49,190.30 L359.89,190.30" stroke="#a05050" stroke-width="0.7" fill="none"/>
<path d="M364.53,181.50 L364.53,185.50 M363.33,181.50 L365.73,181.50 M363.33,185.50 L365.73,185.50" stroke="#a05050" stroke-width="0.7" fill="none"/>
<path d="M370.37,225.30 L370.37,241.30 M369.17,225.30 L371.57,225.30 M369.17,241.30 L371.57,241.30" stroke="#a05050" stroke-width="0.7" fill="none"/>
<path d="M376.21,255.90 L376.21,261.90 M375.01,255.90 L377.41,255.90 M375.01,261.90 L377.41,261.90" stroke="#a05050" stroke-width="0.7" fill="none"/>
<path d="M382.06,264.60 L382.06,266.60 M380.86,264.60 L383.26,264.60 M380.86,266.60 L383.26,266.60" stroke="#a05050" stroke-width="0.7" fill="none"/>
<path d="M387.90,264.60 L387.90,266.60 M386.70,264.60 L389.10,264.60 M386.70,266.60 L389.10,266.60" stroke="#a05050" stroke-width="0.7" fill="none"/>
<polyline points="276.90,263.70 282.74,262.40 288.58,260.20 294.43,258.30 300.27,245.40 306.11,248.10 311.95,247.30 317.79,242.70 323.64,211.70 329.48,219.80 335.32,219.80 341.16,216.60 347.00,182.10 352.85,188.80 358.69,188.30 364.53,183.50 370.37,233.30 376.21,258.90 382.06,265.60 387.90,265.60" fill="none" stroke="#c87880" stroke-width="0.8"/>
<circle cx="276.90" cy="263.70" r="1.8" fill="#9a2838" stroke="#4a1018" stroke-width="0.8"/>
<circle cx="282.74" cy="262.40" r="1.8" fill="#9a2838" stroke="#4a1018" stroke-width="0.8"/>
<circle cx="288.58" cy="260.20" r="1.8" fill="#9a2838" stroke="#4a1018" stroke-width="0.8"/>
<circle cx="294.43" cy="258.30" r="1.8" fill="#9a2838" stroke="#4a1018" stroke-width="0.8"/>
<circle cx="300.27" cy="245.40" r="1.8" fill="#9a2838" stroke="#4a1018" stroke-width="0.8"/>
<circle cx="306.11" cy="248.10" r="1.8" fill="#9a2838" stroke="#4a1018" stroke-width="0.8"/>
<circle cx="311.95" cy="247.30" r="1.8" fill="#9a2838" stroke="#4a1018" stroke-width="0.8"/>
<circle cx="317.79" cy="242.70" r="1.8" fill="#9a2838" stroke="#4a1018" stroke-width="0.8"/>
<circle cx="323.64" cy="211.70" r="1.8" fill="#9a2838" stroke="#4a1018" stroke-width="0.8"/>
<circle cx="329.48" cy="219.80" r="1.8" fill="#9a2838" stroke="#4a1018" stroke-width="0.8"/>
<circle cx="335.32" cy="219.80" r="1.8" fill="#9a2838" stroke="#4a1018" stroke-width="0.8"/>
<circle cx="341.16" cy="216.60" r="1.8" fill="#9a2838" stroke="#4a1018" stroke-width="0.8"/>
<circle cx="347.00" cy="182.10" r="1.8" fill="#9a2838" stroke="#4a1018" stroke-width="0.8"/>
<circle cx="352.85" cy="188.80" r="1.8" fill="#9a2838" stroke="#4a1018" stroke-width="0.8"/>
<circle cx="358.69" cy="188.30" r="1.8" fill="#9a2838" stroke="#4a1018" stroke-width="0.8"/>
<circle cx="364.53" cy="183.50" r="1.8" fill="#9a2838" stroke="#4a1018" stroke-width="0.8"/>
<circle cx="370.37" cy="233.30" r="1.8" fill="#9a2838" stroke="#4a1018" stroke-width="0.8"/>
<circle cx="376.21" cy="258.90" r="1.8" fill="#9a2838" stroke="#4a1018" stroke-width="0.8"/>
<circle cx="382.06" cy="265.60" r="1.8" fill="#9a2838" stroke="#4a1018" stroke-width="0.8"/>
<circle cx="387.90" cy="265.60" r="1.8" fill="#9a2838" stroke="#4a1018" stroke-width="0.8"/>
<text x="298" y="148.0" font-size="5.2" font-weight="bold" class="t" text-anchor="middle" textLength="15.8" lengthAdjust="spacingAndGlyphs">CCCP</text>
<text x="322.1" y="148.0" font-size="5.2" font-weight="bold" class="t" text-anchor="middle" textLength="15.8" lengthAdjust="spacingAndGlyphs">CCCP</text>
<text x="344.2" y="148.0" font-size="5.2" font-weight="bold" class="t" text-anchor="middle" textLength="15.8" lengthAdjust="spacingAndGlyphs">CCCP</text>
<text x="370.5" y="148.0" font-size="5.2" font-weight="bold" class="t" text-anchor="middle" textLength="30" lengthAdjust="spacingAndGlyphs">antimycine</text>
<rect x="296.3" y="151.0" width="2.0" height="17.80000000000001" fill="#000"/>
<path d="M294.05,168.3 L300.55,168.3 L297.3,174.8 Z" fill="#000"/>
<rect x="319.0" y="151.0" width="2.0" height="17.80000000000001" fill="#000"/>
<path d="M316.75,168.3 L323.25,168.3 L320,174.8 Z" fill="#000"/>
<rect x="340.9" y="151.0" width="2.0" height="17.80000000000001" fill="#000"/>
<path d="M338.65,168.3 L345.15,168.3 L341.9,174.8 Z" fill="#000"/>
<rect x="364.6" y="151.0" width="2.0" height="17.80000000000001" fill="#000"/>
<path d="M362.35,168.3 L368.85,168.3 L365.6,174.8 Z" fill="#000"/>
<rect x="377.5" y="183.2" width="10.8" height="3.2" fill="#c01018" stroke="#801010" stroke-width="0.6"/>
<rect x="377.5" y="194.5" width="10.8" height="3.2" fill="#e8c0c4" stroke="#a07078" stroke-width="0.6"/>
<text x="392.9" y="187.4" font-size="7" font-weight="bold" class="t" textLength="99.6" lengthAdjust="spacingAndGlyphs">OCI-AML2 shGLS1 without doxy</text>
<text x="392.9" y="198.7" font-size="7" font-weight="bold" class="t" textLength="88" lengthAdjust="spacingAndGlyphs">OCI-AML2 shGLS1 with doxy</text>
<text x="378" y="221.5" font-size="7" font-style="italic" font-weight="bold" class="t" textLength="53.4" lengthAdjust="spacingAndGlyphs">doxycycline (d2)</text>
<text x="440" y="221.5" font-size="7" font-weight="bold" class="t" text-anchor="middle">-</text>
<text x="454.8" y="221.5" font-size="7" font-weight="bold" class="t" text-anchor="middle">+</text>
<text x="427.9" y="232.3" font-size="7" font-weight="bold" class="t" text-anchor="end" textLength="35.8" lengthAdjust="spacingAndGlyphs">GLS1(GAC)</text>
<text x="427.9" y="246.5" font-size="7" font-weight="bold" class="t" text-anchor="end" textLength="10.8" lengthAdjust="spacingAndGlyphs">p85</text>
<rect x="432.5" y="223.8" width="30.4" height="10.8" fill="#f0f0f0" stroke="#666" stroke-width="0.9"/>
<rect x="432.5" y="237.3" width="30.4" height="10" fill="#ececec" stroke="#666" stroke-width="0.9"/>
<rect x="435.30" y="227.80" width="10.00" height="2.40" rx="1.20" fill="#0a0a0a" fill-opacity="0.8" filter="url(#b07)"/>
<rect x="434.85" y="240.90" width="11.50" height="3.00" rx="1.50" fill="#0a0a0a" fill-opacity="1.0" filter="url(#b07)"/>
<rect x="447.65" y="240.90" width="11.50" height="3.00" rx="1.50" fill="#0a0a0a" fill-opacity="1.0" filter="url(#b07)"/>
<line x1="168.8" y1="321" x2="168.8" y2="423.1" stroke="#000" stroke-width="1.1"/>
<line x1="168.8" y1="423.1" x2="322.5" y2="423.1" stroke="#000" stroke-width="1.1"/>
<line x1="166.3" y1="321.5" x2="168.8" y2="321.5" stroke="#000" stroke-width="1"/>
<text x="165.8" y="324.02" font-size="7" font-weight="bold" class="t" text-anchor="end">6</text>
<line x1="166.3" y1="355.4" x2="168.8" y2="355.4" stroke="#000" stroke-width="1"/>
<text x="165.8" y="357.91999999999996" font-size="7" font-weight="bold" class="t" text-anchor="end">4</text>
<line x1="166.3" y1="389.2" x2="168.8" y2="389.2" stroke="#000" stroke-width="1"/>
<text x="165.8" y="391.71999999999997" font-size="7" font-weight="bold" class="t" text-anchor="end">2</text>
<line x1="166.3" y1="423.1" x2="168.8" y2="423.1" stroke="#000" stroke-width="1"/>
<text x="165.8" y="425.62" font-size="7" font-weight="bold" class="t" text-anchor="end">0</text>
<rect x="177.5" y="406" width="11.300000000000011" height="17.100000000000023" fill="#555555" stroke="#333" stroke-width="0.9"/>
<rect x="194" y="413.2" width="11.5" height="9.900000000000034" fill="#e0e0e0" stroke="#888" stroke-width="0.9"/>
<path d="M199.75,413.20 L199.75,412.00 M196.65,412.00 L202.85,412.00" stroke="#888" stroke-width="1.15" fill="none"/>
<rect x="210.3" y="406" width="11.5" height="17.100000000000023" fill="#e00010" stroke="#900" stroke-width="0.9"/>
<rect x="226.3" y="416.2" width="11.299999999999983" height="6.900000000000034" fill="#eaa4a8" stroke="#a06060" stroke-width="0.9"/>
<path d="M231.95,416.20 L231.95,415.00 M228.90,415.00 L235.00,415.00" stroke="#a06060" stroke-width="1.15" fill="none"/>
<rect x="253" y="388" width="11.5" height="35.10000000000002" fill="#555555" stroke="#333" stroke-width="0.9"/>
<path d="M258.75,388.00 L258.75,384.50 M255.65,384.50 L261.86,384.50" stroke="#333" stroke-width="1.15" fill="none"/>
<rect x="269.5" y="409.2" width="11.300000000000011" height="13.900000000000034" fill="#e0e0e0" stroke="#888" stroke-width="0.9"/>
<path d="M275.15,409.20 L275.15,405.00 M272.10,405.00 L278.20,405.00" stroke="#888" stroke-width="1.15" fill="none"/>
<rect x="286.1" y="356.8" width="11.0" height="66.30000000000001" fill="#e00010" stroke="#900" stroke-width="0.9"/>
<path d="M291.60,356.80 L291.60,351.40 M288.63,351.40 L294.57,351.40" stroke="#900" stroke-width="1.15" fill="none"/>
<rect x="302.3" y="408.6" width="11.199999999999989" height="14.5" fill="#eaa4a8" stroke="#a06060" stroke-width="0.9"/>
<path d="M307.90,408.60 L307.90,405.00 M304.88,405.00 L310.92,405.00" stroke="#a06060" stroke-width="1.15" fill="none"/>
<text x="199.7" y="412.4" font-size="8" font-weight="bold" text-anchor="middle" fill="#222">*</text>
<text x="231.9" y="414.8" font-size="8" font-weight="bold" text-anchor="middle" fill="#222">**</text>
<text x="275.1" y="405.0" font-size="8" font-weight="bold" text-anchor="middle" fill="#222">**</text>
<text x="307.9" y="405.0" font-size="8" font-weight="bold" text-anchor="middle" fill="#222">**</text>
<text transform="translate(149.4,371.8) rotate(-90)" font-size="8.6" font-weight="bold" class="s" text-anchor="middle" textLength="69.3" lengthAdjust="spacingAndGlyphs">OCR (arbitrary unit,</text>
<text transform="translate(158.2,371.8) rotate(-90)" font-size="8.6" font-weight="bold" class="s" text-anchor="middle" textLength="67.7" lengthAdjust="spacingAndGlyphs">control to baseline)</text>
<text x="207" y="434.6" font-size="7.6" font-weight="bold" class="t" text-anchor="middle" textLength="30" lengthAdjust="spacingAndGlyphs">baseline</text>
<text x="283" y="434.6" font-size="7.6" font-weight="bold" class="t" text-anchor="middle" textLength="21" lengthAdjust="spacingAndGlyphs">CCCP</text>
<rect x="173.6" y="306.8" width="12.2" height="4" fill="#555555" stroke="#333" stroke-width="0.8"/>
<text x="191.9" y="311.3" font-size="7" font-weight="bold" class="t" textLength="109.4" lengthAdjust="spacingAndGlyphs">MOLM-14 shGLS1 without doxy</text>
<rect x="173.6" y="318.5" width="12.2" height="4" fill="#e0e0e0" stroke="#888" stroke-width="0.8"/>
<text x="191.9" y="323.0" font-size="7" font-weight="bold" class="t" textLength="98.4" lengthAdjust="spacingAndGlyphs">MOLM-14 shGLS1 with doxy</text>
<rect x="173.6" y="330.7" width="12.2" height="4" fill="#e00010" stroke="#900" stroke-width="0.8"/>
<text x="191.9" y="335.2" font-size="7" font-weight="bold" class="t" textLength="112" lengthAdjust="spacingAndGlyphs">OCI-AML2 shGLS1 without doxy</text>
<rect x="173.6" y="342.2" width="12.2" height="4" fill="#eaa4a8" stroke="#a06060" stroke-width="0.8"/>
<text x="191.9" y="346.7" font-size="7" font-weight="bold" class="t" textLength="100" lengthAdjust="spacingAndGlyphs">OCI-AML2 shGLS1 with doxy</text>
<text x="1.0" y="450.3" font-size="10.5" font-weight="bold" class="s">C</text>
<line x1="77.1" y1="455.5" x2="77.1" y2="561.2" stroke="#000" stroke-width="1.1"/>
<line x1="77.1" y1="561.2" x2="229" y2="561.2" stroke="#000" stroke-width="1.1"/>
<line x1="74.6" y1="456.3" x2="77.1" y2="456.3" stroke="#000" stroke-width="1"/>
<text x="74.1" y="458.82" font-size="7" font-weight="bold" class="t" text-anchor="end">6</text>
<line x1="74.6" y1="491.3" x2="77.1" y2="491.3" stroke="#000" stroke-width="1"/>
<text x="74.1" y="493.82" font-size="7" font-weight="bold" class="t" text-anchor="end">4</text>
<line x1="74.6" y1="526.3" x2="77.1" y2="526.3" stroke="#000" stroke-width="1"/>
<text x="74.1" y="528.8199999999999" font-size="7" font-weight="bold" class="t" text-anchor="end">2</text>
<line x1="74.6" y1="561.2" x2="77.1" y2="561.2" stroke="#000" stroke-width="1"/>
<text x="74.1" y="563.72" font-size="7" font-weight="bold" class="t" text-anchor="end">0</text>
<rect x="86.0" y="544.0" width="11.0" height="17.200000000000045" fill="#000" stroke="#000" stroke-width="0.9"/>
<rect x="102.5" y="551.3" width="11.299999999999997" height="9.900000000000091" fill="#5c5c5c" stroke="#333" stroke-width="0.9"/>
<path d="M108.15,551.30 L108.15,549.20 M105.10,549.20 L111.20,549.20" stroke="#333" stroke-width="1.15" fill="none"/>
<rect x="119.5" y="547.0" width="11.300000000000011" height="14.200000000000045" fill="#a2a2a2" stroke="#555" stroke-width="0.9"/>
<path d="M125.15,547.00 L125.15,544.20 M122.10,544.20 L128.20,544.20" stroke="#555" stroke-width="1.15" fill="none"/>
<rect x="136.3" y="538.3" width="11.199999999999989" height="22.90000000000009" fill="#fff" stroke="#000" stroke-width="0.9"/>
<path d="M141.90,538.30 L141.90,535.00 M138.88,535.00 L144.92,535.00" stroke="#000" stroke-width="1.15" fill="none"/>
<rect x="164.5" y="516.8" width="11.0" height="44.40000000000009" fill="#000" stroke="#000" stroke-width="0.9"/>
<path d="M170.00,516.80 L170.00,512.50 M167.03,512.50 L172.97,512.50" stroke="#000" stroke-width="1.15" fill="none"/>
<rect x="180.5" y="531.3" width="11.300000000000011" height="29.90000000000009" fill="#5c5c5c" stroke="#333" stroke-width="0.9"/>
<path d="M186.15,531.30 L186.15,527.00 M183.10,527.00 L189.20,527.00" stroke="#333" stroke-width="1.15" fill="none"/>
<rect x="197.5" y="532.0" width="11.300000000000011" height="29.200000000000045" fill="#a2a2a2" stroke="#555" stroke-width="0.9"/>
<path d="M203.15,532.00 L203.15,526.30 M200.10,526.30 L206.20,526.30" stroke="#555" stroke-width="1.15" fill="none"/>
<rect x="214.3" y="533.8" width="11.199999999999989" height="27.40000000000009" fill="#fff" stroke="#000" stroke-width="0.9"/>
<path d="M219.90,533.80 L219.90,527.50 M216.88,527.50 L222.92,527.50" stroke="#000" stroke-width="1.15" fill="none"/>
<text x="108.1" y="550.3" font-size="8.5" font-weight="bold" text-anchor="middle" fill="#222">*</text>
<text x="125.1" y="542.5" font-size="8.2" text-anchor="middle" fill="#2a2a2a">ns</text>
<text x="141.9" y="533.2" font-size="8.2" text-anchor="middle" fill="#2a2a2a">ns</text>
<text x="186.1" y="526.8" font-size="8.5" font-weight="bold" text-anchor="middle" fill="#222">**</text>
<text x="203.1" y="528.1" font-size="8.5" font-weight="bold" text-anchor="middle" fill="#222">*</text>
<text x="219.9" y="525.7" font-size="8.2" text-anchor="middle" fill="#2a2a2a">ns</text>
<rect x="83" y="458.0" width="11.5" height="4.1" fill="#000" stroke="#000" stroke-width="0.8"/>
<text x="100" y="462.6" font-size="7.2" font-weight="bold" class="t" textLength="22" lengthAdjust="spacingAndGlyphs">DMSO</text>
<rect x="83" y="469.8" width="11.5" height="4.1" fill="#5c5c5c" stroke="#333" stroke-width="0.8"/>
<text x="100" y="474.40000000000003" font-size="7.2" font-weight="bold" class="t" textLength="48" lengthAdjust="spacingAndGlyphs">CB-839 (1µM)</text>
<rect x="83" y="480.7" width="11.5" height="4.1" fill="#a2a2a2" stroke="#555" stroke-width="0.8"/>
<text x="100" y="485.3" font-size="7.2" font-weight="bold" class="t" textLength="51" lengthAdjust="spacingAndGlyphs">BPTES (10µM)</text>
<rect x="83" y="491.4" width="11.5" height="4.1" fill="#fff" stroke="#000" stroke-width="0.8"/>
<text x="100" y="496.0" font-size="7.2" font-weight="bold" class="t" textLength="41" lengthAdjust="spacingAndGlyphs">968 (10µM)</text>
<text x="177.6" y="468.8" font-size="7.4" font-style="italic" font-weight="bold" class="t" textLength="40" lengthAdjust="spacingAndGlyphs">OCI-AML2</text>
<text transform="translate(55.3,507.8) rotate(-90)" font-size="8.8" font-weight="bold" class="s" text-anchor="middle" textLength="73.5" lengthAdjust="spacingAndGlyphs">OCR (arbitrary unit,</text>
<text transform="translate(64.6,507.8) rotate(-90)" font-size="8.8" font-weight="bold" class="s" text-anchor="middle" textLength="71.5" lengthAdjust="spacingAndGlyphs">control to baseline)</text>
<text x="115.8" y="572.2" font-size="7.6" font-weight="bold" class="t" text-anchor="middle" textLength="20" lengthAdjust="spacingAndGlyphs">basal</text>
<text x="192.7" y="572.2" font-size="7.6" font-weight="bold" class="t" text-anchor="middle" textLength="21" lengthAdjust="spacingAndGlyphs">CCCP</text>
<text x="250.8" y="450.6" font-size="10.5" font-weight="bold" class="s">D</text>
<line x1="312.1" y1="473.5" x2="312.1" y2="566.4" stroke="#000" stroke-width="1.1"/>
<line x1="312.1" y1="566.4" x2="451.3" y2="566.4" stroke="#000" stroke-width="1.1"/>
<line x1="309.6" y1="473.9" x2="312.1" y2="473.9" stroke="#000" stroke-width="1"/>
<text x="309.1" y="475.916" font-size="5.6" font-weight="bold" class="t" text-anchor="end">1.5</text>
<line x1="309.6" y1="504.9" x2="312.1" y2="504.9" stroke="#000" stroke-width="1"/>
<text x="309.1" y="506.916" font-size="5.6" font-weight="bold" class="t" text-anchor="end">1.0</text>
<line x1="309.6" y1="535.8" x2="312.1" y2="535.8" stroke="#000" stroke-width="1"/>
<text x="309.1" y="537.8159999999999" font-size="5.6" font-weight="bold" class="t" text-anchor="end">0.5</text>
<line x1="309.6" y1="566.4" x2="312.1" y2="566.4" stroke="#000" stroke-width="1"/>
<text x="309.1" y="568.4159999999999" font-size="5.6" font-weight="bold" class="t" text-anchor="end">0.0</text>
<rect x="318.0" y="504.9" width="5.600000000000023" height="61.5" fill="#000" stroke="#000" stroke-width="0.8"/>
<path d="M320.80,504.90 L320.80,502.10 M319.29,502.10 L322.31,502.10" stroke="#000" stroke-width="1.15" fill="none"/>
<rect x="326.4" y="545.0" width="6.0" height="21.399999999999977" fill="#666" stroke="#333" stroke-width="0.8"/>
<path d="M329.40,545.00 L329.40,541.80 M327.78,541.80 L331.02,541.80" stroke="#333" stroke-width="1.15" fill="none"/>
<rect x="335.0" y="548.0" width="6.199999999999989" height="18.399999999999977" fill="#b4b4b4" stroke="#666" stroke-width="0.8"/>
<path d="M338.10,548.00 L338.10,542.00 M336.43,542.00 L339.77,542.00" stroke="#666" stroke-width="1.15" fill="none"/>
<rect x="343.3" y="521.3" width="6.699999999999989" height="45.10000000000002" fill="#fff" stroke="#000" stroke-width="0.8"/>
<path d="M346.65,521.30 L346.65,506.30 M344.84,506.30 L348.46,506.30" stroke="#000" stroke-width="1.15" fill="none"/>
<rect x="358.2" y="504.9" width="6.600000000000023" height="61.5" fill="#000" stroke="#000" stroke-width="0.8"/>
<path d="M361.50,504.90 L361.50,498.80 M359.72,498.80 L363.28,498.80" stroke="#000" stroke-width="1.15" fill="none"/>
<rect x="367.0" y="556.8" width="6.800000000000011" height="9.600000000000023" fill="#666" stroke="#333" stroke-width="0.8"/>
<path d="M370.40,556.80 L370.40,553.80 M368.56,553.80 L372.24,553.80" stroke="#333" stroke-width="1.15" fill="none"/>
<rect x="375.8" y="559.5" width="6.199999999999989" height="6.899999999999977" fill="#b4b4b4" stroke="#666" stroke-width="0.8"/>
<path d="M378.90,559.50 L378.90,557.50 M377.23,557.50 L380.57,557.50" stroke="#666" stroke-width="1.15" fill="none"/>
<rect x="383.8" y="518.3" width="7.0" height="48.10000000000002" fill="#fff" stroke="#000" stroke-width="0.8"/>
<path d="M387.30,518.30 L387.30,500.00 M385.41,500.00 L389.19,500.00" stroke="#000" stroke-width="1.15" fill="none"/>
<rect x="399.3" y="504.9" width="6.199999999999989" height="61.5" fill="#000" stroke="#000" stroke-width="0.8"/>
<path d="M402.40,504.90 L402.40,500.80 M400.73,500.80 L404.07,500.80" stroke="#000" stroke-width="1.15" fill="none"/>
<rect x="408.0" y="553.0" width="6.5" height="13.399999999999977" fill="#666" stroke="#333" stroke-width="0.8"/>
<path d="M411.25,553.00 L411.25,549.30 M409.50,549.30 L413.00,549.30" stroke="#333" stroke-width="1.15" fill="none"/>
<rect x="416.3" y="545.8" width="6.699999999999989" height="20.600000000000023" fill="#b4b4b4" stroke="#666" stroke-width="0.8"/>
<path d="M419.65,545.80 L419.65,538.80 M417.84,538.80 L421.46,538.80" stroke="#666" stroke-width="1.15" fill="none"/>
<rect x="425.0" y="514.3" width="7.0" height="52.10000000000002" fill="#fff" stroke="#000" stroke-width="0.8"/>
<path d="M428.50,514.30 L428.50,497.50 M426.61,497.50 L430.39,497.50" stroke="#000" stroke-width="1.15" fill="none"/>
<text x="329.4" y="539.5" font-size="4.2" font-weight="bold" text-anchor="middle" fill="#2a2a2a">***</text>
<text x="338.1" y="540.2" font-size="4.2" font-weight="bold" text-anchor="middle" fill="#2a2a2a">***</text>
<text x="346.6" y="505.0" font-size="6.8" text-anchor="middle" fill="#333">ns</text>
<text x="370.4" y="552.3" font-size="4.2" font-weight="bold" text-anchor="middle" fill="#2a2a2a">***</text>
<text x="378.9" y="556" font-size="4.2" font-weight="bold" text-anchor="middle" fill="#2a2a2a">***</text>
<text x="387.3" y="499" font-size="6.8" text-anchor="middle" fill="#333">ns</text>
<text x="411.3" y="547.8" font-size="4.2" font-weight="bold" text-anchor="middle" fill="#2a2a2a">***</text>
<text x="419.6" y="537.3" font-size="4.2" font-weight="bold" text-anchor="middle" fill="#2a2a2a">***</text>
<text x="428.5" y="496.3" font-size="6.8" text-anchor="middle" fill="#333">ns</text>
<rect x="318" y="448.3" width="9.6" height="3.6" fill="#555" stroke="#333" stroke-width="0.8"/>
<text x="332.5" y="452.3" font-size="6.2" font-weight="bold" class="t" textLength="20" lengthAdjust="spacingAndGlyphs">DMSO</text>
<rect x="318" y="459.4" width="9.6" height="3.6" fill="#888" stroke="#555" stroke-width="0.8"/>
<text x="332.5" y="463.4" font-size="6.2" font-weight="bold" class="t" textLength="42" lengthAdjust="spacingAndGlyphs">CB-839 (1µM)</text>
<rect x="318" y="470.09999999999997" width="9.6" height="3.6" fill="#c4c4c4" stroke="#777" stroke-width="0.8"/>
<text x="332.5" y="474.09999999999997" font-size="6.2" font-weight="bold" class="t" textLength="45" lengthAdjust="spacingAndGlyphs">BPTES (10µM)</text>
<rect x="318" y="480.5" width="9.6" height="3.6" fill="#fff" stroke="#777" stroke-width="0.8"/>
<text x="332.5" y="484.5" font-size="6.2" font-weight="bold" class="t" textLength="36" lengthAdjust="spacingAndGlyphs">968 (10µM)</text>
<text x="400" y="474.6" font-size="7.4" font-style="italic" font-weight="bold" class="t" textLength="38.7" lengthAdjust="spacingAndGlyphs">OCI-AML2</text>
<text transform="translate(288.3,521.4) rotate(-90)" font-size="6.4" font-weight="bold" class="t" text-anchor="middle" textLength="76" lengthAdjust="spacingAndGlyphs">metabolite concentration</text>
<text transform="translate(297.0,521.4) rotate(-90)" font-size="6.4" font-weight="bold" class="t" text-anchor="middle" textLength="47" lengthAdjust="spacingAndGlyphs">(ratio to DMSO)</text>
<text x="336.5" y="573.8" font-size="6.8" font-weight="bold" class="t" text-anchor="middle" textLength="33" lengthAdjust="spacingAndGlyphs">glutamate</text>
<text x="382.0" y="573.8" font-size="6.8" font-weight="bold" class="t" text-anchor="middle" textLength="23" lengthAdjust="spacingAndGlyphs">malate</text>
<text x="428.8" y="573.8" font-size="6.8" font-weight="bold" class="t" text-anchor="middle" textLength="22" lengthAdjust="spacingAndGlyphs">citrate</text>
<text x="37.6" y="610.2" font-size="10.5" font-weight="bold" class="s">E</text>
<line x1="96.5" y1="637.5" x2="96.5" y2="778.3" stroke="#b0b0e4" stroke-width="1.1"/>
<line x1="124.8" y1="637.5" x2="124.8" y2="778.3" stroke="#b0b0e4" stroke-width="1.1"/>
<line x1="153.3" y1="637.5" x2="153.3" y2="778.3" stroke="#b0b0e4" stroke-width="1.1"/>
<line x1="182.0" y1="637.5" x2="182.0" y2="778.3" stroke="#b0b0e4" stroke-width="1.1"/>
<line x1="71.5" y1="637.5" x2="71.5" y2="778.5" stroke="#666" stroke-width="1"/>
<line x1="71.5" y1="778.5" x2="221.3" y2="778.5" stroke="#666" stroke-width="1"/>
<line x1="69.7" y1="657.5" x2="71.5" y2="657.5" stroke="#666" stroke-width="1"/>
<text x="69.3" y="659.664" font-size="4.9" font-weight="bold" class="t" text-anchor="end" fill="#111">400</text>
<line x1="69.7" y1="688.5" x2="71.5" y2="688.5" stroke="#666" stroke-width="1"/>
<text x="69.3" y="689.864" font-size="4.9" font-weight="bold" class="t" text-anchor="end" fill="#111">300</text>
<line x1="69.7" y1="718.5" x2="71.5" y2="718.5" stroke="#666" stroke-width="1"/>
<text x="69.3" y="719.764" font-size="4.9" font-weight="bold" class="t" text-anchor="end" fill="#111">200</text>
<line x1="69.7" y1="748.5" x2="71.5" y2="748.5" stroke="#666" stroke-width="1"/>
<text x="69.3" y="749.864" font-size="4.9" font-weight="bold" class="t" text-anchor="end" fill="#111">100</text>
<line x1="69.7" y1="778.5" x2="71.5" y2="778.5" stroke="#666" stroke-width="1"/>
<text x="69.3" y="780.064" font-size="4.9" font-weight="bold" class="t" text-anchor="end" fill="#111">0</text>
<line x1="71.5" y1="778.5" x2="71.5" y2="780.3" stroke="#666" stroke-width="1"/>
<text x="71.6" y="784.5749999999999" font-size="4.9" font-weight="bold" class="t" text-anchor="middle" fill="#111">0</text>
<line x1="112.5" y1="778.5" x2="112.5" y2="780.3" stroke="#666" stroke-width="1"/>
<text x="112.8" y="784.5749999999999" font-size="4.9" font-weight="bold" class="t" text-anchor="middle" fill="#111">50</text>
<line x1="153.5" y1="778.5" x2="153.5" y2="780.3" stroke="#666" stroke-width="1"/>
<text x="153.9" y="784.5749999999999" font-size="4.9" font-weight="bold" class="t" text-anchor="middle" fill="#111">100</text>
<line x1="194.5" y1="778.5" x2="194.5" y2="780.3" stroke="#666" stroke-width="1"/>
<text x="194.6" y="784.5749999999999" font-size="4.9" font-weight="bold" class="t" text-anchor="middle" fill="#111">150</text>
<text transform="translate(54.6,703) rotate(-90)" font-size="5.4" font-weight="bold" class="t" text-anchor="middle" textLength="44.2" lengthAdjust="spacingAndGlyphs" fill="#111">OCR pMoles/min</text>
<text x="148" y="791.3" font-size="5.2" font-weight="bold" class="t" text-anchor="middle" textLength="28" lengthAdjust="spacingAndGlyphs" fill="#111">TIME (min)</text>
<path d="M72.70,754.90 L72.70,760.90 M71.50,754.90 L73.90,754.90 M71.50,760.90 L73.90,760.90" stroke="#a0a0a0" stroke-width="0.7" fill="none"/>
<path d="M79.85,754.20 L79.85,760.20 M78.65,754.20 L81.05,754.20 M78.65,760.20 L81.05,760.20" stroke="#a0a0a0" stroke-width="0.7" fill="none"/>
<path d="M87.00,753.30 L87.00,759.30 M85.80,753.30 L88.20,753.30 M85.80,759.30 L88.20,759.30" stroke="#a0a0a0" stroke-width="0.7" fill="none"/>
<path d="M94.15,751.50 L94.15,757.50 M92.95,751.50 L95.35,751.50 M92.95,757.50 L95.35,757.50" stroke="#a0a0a0" stroke-width="0.7" fill="none"/>
<path d="M101.30,733.30 L101.30,743.30 M100.10,733.30 L102.50,733.30 M100.10,743.30 L102.50,743.30" stroke="#a0a0a0" stroke-width="0.7" fill="none"/>
<path d="M108.45,733.80 L108.45,745.80 M107.25,733.80 L109.65,733.80 M107.25,745.80 L109.65,745.80" stroke="#a0a0a0" stroke-width="0.7" fill="none"/>
<path d="M115.60,732.30 L115.60,744.30 M114.40,732.30 L116.80,732.30 M114.40,744.30 L116.80,744.30" stroke="#a0a0a0" stroke-width="0.7" fill="none"/>
<path d="M122.75,729.20 L122.75,741.20 M121.55,729.20 L123.95,729.20 M121.55,741.20 L123.95,741.20" stroke="#a0a0a0" stroke-width="0.7" fill="none"/>
<path d="M129.90,697.40 L129.90,713.40 M128.70,697.40 L131.10,697.40 M128.70,713.40 L131.10,713.40" stroke="#a0a0a0" stroke-width="0.7" fill="none"/>
<path d="M137.05,702.00 L137.05,722.00 M135.85,702.00 L138.25,702.00 M135.85,722.00 L138.25,722.00" stroke="#a0a0a0" stroke-width="0.7" fill="none"/>
<path d="M144.20,702.50 L144.20,722.50 M143.00,702.50 L145.40,702.50 M143.00,722.50 L145.40,722.50" stroke="#a0a0a0" stroke-width="0.7" fill="none"/>
<path d="M151.35,700.00 L151.35,720.00 M150.15,700.00 L152.55,700.00 M150.15,720.00 L152.55,720.00" stroke="#a0a0a0" stroke-width="0.7" fill="none"/>
<path d="M158.50,671.25 L158.50,691.25 M157.30,671.25 L159.70,671.25 M157.30,691.25 L159.70,691.25" stroke="#a0a0a0" stroke-width="0.7" fill="none"/>
<path d="M165.65,674.25 L165.65,698.25 M164.45,674.25 L166.85,674.25 M164.45,698.25 L166.85,698.25" stroke="#a0a0a0" stroke-width="0.7" fill="none"/>
<path d="M172.80,673.75 L172.80,697.75 M171.60,673.75 L174.00,673.75 M171.60,697.75 L174.00,697.75" stroke="#a0a0a0" stroke-width="0.7" fill="none"/>
<path d="M179.95,669.25 L179.95,693.25 M178.75,669.25 L181.15,669.25 M178.75,693.25 L181.15,693.25" stroke="#a0a0a0" stroke-width="0.7" fill="none"/>
<path d="M187.10,690.50 L187.10,714.50 M185.90,690.50 L188.30,690.50 M185.90,714.50 L188.30,714.50" stroke="#a0a0a0" stroke-width="0.7" fill="none"/>
<path d="M194.25,713.75 L194.25,737.75 M193.05,713.75 L195.45,713.75 M193.05,737.75 L195.45,737.75" stroke="#a0a0a0" stroke-width="0.7" fill="none"/>
<path d="M201.40,727.00 L201.40,747.00 M200.20,727.00 L202.60,727.00 M200.20,747.00 L202.60,747.00" stroke="#a0a0a0" stroke-width="0.7" fill="none"/>
<path d="M208.55,738.00 L208.55,758.00 M207.35,738.00 L209.75,738.00 M207.35,758.00 L209.75,758.00" stroke="#a0a0a0" stroke-width="0.7" fill="none"/>
<polyline points="72.70,757.90 79.85,757.20 87.00,756.30 94.15,754.50 101.30,738.30 108.45,739.80 115.60,738.30 122.75,735.20 129.90,705.40 137.05,712.00 144.20,712.50 151.35,710.00 158.50,681.25 165.65,686.25 172.80,685.75 179.95,681.25 187.10,702.50 194.25,725.75 201.40,737.00 208.55,748.00" fill="none" stroke="#999999" stroke-width="0.9"/>
<circle cx="72.70" cy="757.90" r="2.1" fill="#888" stroke="#5a5a5a" stroke-width="0.8"/>
<circle cx="79.85" cy="757.20" r="2.1" fill="#888" stroke="#5a5a5a" stroke-width="0.8"/>
<circle cx="87.00" cy="756.30" r="2.1" fill="#888" stroke="#5a5a5a" stroke-width="0.8"/>
<circle cx="94.15" cy="754.50" r="2.1" fill="#888" stroke="#5a5a5a" stroke-width="0.8"/>
<circle cx="101.30" cy="738.30" r="2.1" fill="#888" stroke="#5a5a5a" stroke-width="0.8"/>
<circle cx="108.45" cy="739.80" r="2.1" fill="#888" stroke="#5a5a5a" stroke-width="0.8"/>
<circle cx="115.60" cy="738.30" r="2.1" fill="#888" stroke="#5a5a5a" stroke-width="0.8"/>
<circle cx="122.75" cy="735.20" r="2.1" fill="#888" stroke="#5a5a5a" stroke-width="0.8"/>
<circle cx="129.90" cy="705.40" r="2.1" fill="#888" stroke="#5a5a5a" stroke-width="0.8"/>
<circle cx="137.05" cy="712.00" r="2.1" fill="#888" stroke="#5a5a5a" stroke-width="0.8"/>
<circle cx="144.20" cy="712.50" r="2.1" fill="#888" stroke="#5a5a5a" stroke-width="0.8"/>
<circle cx="151.35" cy="710.00" r="2.1" fill="#888" stroke="#5a5a5a" stroke-width="0.8"/>
<circle cx="158.50" cy="681.25" r="2.1" fill="#888" stroke="#5a5a5a" stroke-width="0.8"/>
<circle cx="165.65" cy="686.25" r="2.1" fill="#888" stroke="#5a5a5a" stroke-width="0.8"/>
<circle cx="172.80" cy="685.75" r="2.1" fill="#888" stroke="#5a5a5a" stroke-width="0.8"/>
<circle cx="179.95" cy="681.25" r="2.1" fill="#888" stroke="#5a5a5a" stroke-width="0.8"/>
<circle cx="187.10" cy="702.50" r="2.1" fill="#888" stroke="#5a5a5a" stroke-width="0.8"/>
<circle cx="194.25" cy="725.75" r="2.1" fill="#888" stroke="#5a5a5a" stroke-width="0.8"/>
<circle cx="201.40" cy="737.00" r="2.1" fill="#888" stroke="#5a5a5a" stroke-width="0.8"/>
<circle cx="208.55" cy="748.00" r="2.1" fill="#888" stroke="#5a5a5a" stroke-width="0.8"/>
<path d="M72.70,739.20 L72.70,745.20 M71.50,739.20 L73.90,739.20 M71.50,745.20 L73.90,745.20" stroke="#5a5ab0" stroke-width="0.7" fill="none"/>
<path d="M79.85,738.80 L79.85,744.80 M78.65,738.80 L81.05,738.80 M78.65,744.80 L81.05,744.80" stroke="#5a5ab0" stroke-width="0.7" fill="none"/>
<path d="M87.00,737.00 L87.00,743.00 M85.80,737.00 L88.20,737.00 M85.80,743.00 L88.20,743.00" stroke="#5a5ab0" stroke-width="0.7" fill="none"/>
<path d="M94.15,735.80 L94.15,741.80 M92.95,735.80 L95.35,735.80 M92.95,741.80 L95.35,741.80" stroke="#5a5ab0" stroke-width="0.7" fill="none"/>
<path d="M101.30,709.00 L101.30,719.00 M100.10,709.00 L102.50,709.00 M100.10,719.00 L102.50,719.00" stroke="#5a5ab0" stroke-width="0.7" fill="none"/>
<path d="M108.45,711.00 L108.45,721.00 M107.25,711.00 L109.65,711.00 M107.25,721.00 L109.65,721.00" stroke="#5a5ab0" stroke-width="0.7" fill="none"/>
<path d="M115.60,708.50 L115.60,718.50 M114.40,708.50 L116.80,708.50 M114.40,718.50 L116.80,718.50" stroke="#5a5ab0" stroke-width="0.7" fill="none"/>
<path d="M122.75,704.00 L122.75,714.00 M121.55,704.00 L123.95,704.00 M121.55,714.00 L123.95,714.00" stroke="#5a5ab0" stroke-width="0.7" fill="none"/>
<path d="M129.90,653.50 L129.90,665.50 M128.70,653.50 L131.10,653.50 M128.70,665.50 L131.10,665.50" stroke="#5a5ab0" stroke-width="0.7" fill="none"/>
<path d="M137.05,664.00 L137.05,676.00 M135.85,664.00 L138.25,664.00 M135.85,676.00 L138.25,676.00" stroke="#5a5ab0" stroke-width="0.7" fill="none"/>
<path d="M144.20,663.50 L144.20,675.50 M143.00,663.50 L145.40,663.50 M143.00,675.50 L145.40,675.50" stroke="#5a5ab0" stroke-width="0.7" fill="none"/>
<path d="M151.35,662.00 L151.35,674.00 M150.15,662.00 L152.55,662.00 M150.15,674.00 L152.55,674.00" stroke="#5a5ab0" stroke-width="0.7" fill="none"/>
<path d="M158.50,640.80 L158.50,650.80 M157.30,640.80 L159.70,640.80 M157.30,650.80 L159.70,650.80" stroke="#5a5ab0" stroke-width="0.7" fill="none"/>
<path d="M165.65,652.00 L165.65,662.00 M164.45,652.00 L166.85,652.00 M164.45,662.00 L166.85,662.00" stroke="#5a5ab0" stroke-width="0.7" fill="none"/>
<path d="M172.80,652.00 L172.80,662.00 M171.60,652.00 L174.00,652.00 M171.60,662.00 L174.00,662.00" stroke="#5a5ab0" stroke-width="0.7" fill="none"/>
<path d="M179.95,651.30 L179.95,661.30 M178.75,651.30 L181.15,651.30 M178.75,661.30 L181.15,661.30" stroke="#5a5ab0" stroke-width="0.7" fill="none"/>
<path d="M187.10,661.50 L187.10,677.50 M185.90,661.50 L188.30,661.50 M185.90,677.50 L188.30,677.50" stroke="#5a5ab0" stroke-width="0.7" fill="none"/>
<path d="M194.25,701.00 L194.25,717.00 M193.05,701.00 L195.45,701.00 M193.05,717.00 L195.45,717.00" stroke="#5a5ab0" stroke-width="0.7" fill="none"/>
<path d="M201.40,727.00 L201.40,739.00 M200.20,727.00 L202.60,727.00 M200.20,739.00 L202.60,739.00" stroke="#5a5ab0" stroke-width="0.7" fill="none"/>
<path d="M208.55,744.00 L208.55,754.00 M207.35,744.00 L209.75,744.00 M207.35,754.00 L209.75,754.00" stroke="#5a5ab0" stroke-width="0.7" fill="none"/>
<polyline points="72.70,742.20 79.85,741.80 87.00,740.00 94.15,738.80 101.30,714.00 108.45,716.00 115.60,713.50 122.75,709.00 129.90,659.50 137.05,670.00 144.20,669.50 151.35,668.00 158.50,645.80 165.65,657.00 172.80,657.00 179.95,656.30 187.10,669.50 194.25,709.00 201.40,733.00 208.55,749.00" fill="none" stroke="#2424a8" stroke-width="1.1"/>
<circle cx="72.70" cy="742.20" r="2.1" fill="#3a40a8" stroke="#1a1a70" stroke-width="0.8"/>
<circle cx="79.85" cy="741.80" r="2.1" fill="#3a40a8" stroke="#1a1a70" stroke-width="0.8"/>
<circle cx="87.00" cy="740.00" r="2.1" fill="#3a40a8" stroke="#1a1a70" stroke-width="0.8"/>
<circle cx="94.15" cy="738.80" r="2.1" fill="#3a40a8" stroke="#1a1a70" stroke-width="0.8"/>
<circle cx="101.30" cy="714.00" r="2.1" fill="#3a40a8" stroke="#1a1a70" stroke-width="0.8"/>
<circle cx="108.45" cy="716.00" r="2.1" fill="#3a40a8" stroke="#1a1a70" stroke-width="0.8"/>
<circle cx="115.60" cy="713.50" r="2.1" fill="#3a40a8" stroke="#1a1a70" stroke-width="0.8"/>
<circle cx="122.75" cy="709.00" r="2.1" fill="#3a40a8" stroke="#1a1a70" stroke-width="0.8"/>
<circle cx="129.90" cy="659.50" r="2.1" fill="#3a40a8" stroke="#1a1a70" stroke-width="0.8"/>
<circle cx="137.05" cy="670.00" r="2.1" fill="#3a40a8" stroke="#1a1a70" stroke-width="0.8"/>
<circle cx="144.20" cy="669.50" r="2.1" fill="#3a40a8" stroke="#1a1a70" stroke-width="0.8"/>
<circle cx="151.35" cy="668.00" r="2.1" fill="#3a40a8" stroke="#1a1a70" stroke-width="0.8"/>
<circle cx="158.50" cy="645.80" r="2.1" fill="#3a40a8" stroke="#1a1a70" stroke-width="0.8"/>
<circle cx="165.65" cy="657.00" r="2.1" fill="#3a40a8" stroke="#1a1a70" stroke-width="0.8"/>
<circle cx="172.80" cy="657.00" r="2.1" fill="#3a40a8" stroke="#1a1a70" stroke-width="0.8"/>
<circle cx="179.95" cy="656.30" r="2.1" fill="#3a40a8" stroke="#1a1a70" stroke-width="0.8"/>
<circle cx="187.10" cy="669.50" r="2.1" fill="#3a40a8" stroke="#1a1a70" stroke-width="0.8"/>
<circle cx="194.25" cy="709.00" r="2.1" fill="#3a40a8" stroke="#1a1a70" stroke-width="0.8"/>
<circle cx="201.40" cy="733.00" r="2.1" fill="#3a40a8" stroke="#1a1a70" stroke-width="0.8"/>
<circle cx="208.55" cy="749.00" r="2.1" fill="#3a40a8" stroke="#1a1a70" stroke-width="0.8"/>
<path d="M72.70,735.20 L72.70,741.20 M71.50,735.20 L73.90,735.20 M71.50,741.20 L73.90,741.20" stroke="#8aa8e0" stroke-width="0.7" fill="none"/>
<path d="M79.85,734.50 L79.85,740.50 M78.65,734.50 L81.05,734.50 M78.65,740.50 L81.05,740.50" stroke="#8aa8e0" stroke-width="0.7" fill="none"/>
<path d="M87.00,731.80 L87.00,737.80 M85.80,731.80 L88.20,731.80 M85.80,737.80 L88.20,737.80" stroke="#8aa8e0" stroke-width="0.7" fill="none"/>
<path d="M94.15,729.70 L94.15,735.70 M92.95,729.70 L95.35,729.70 M92.95,735.70 L95.35,735.70" stroke="#8aa8e0" stroke-width="0.7" fill="none"/>
<path d="M101.30,703.50 L101.30,713.50 M100.10,703.50 L102.50,703.50 M100.10,713.50 L102.50,713.50" stroke="#8aa8e0" stroke-width="0.7" fill="none"/>
<path d="M108.45,705.50 L108.45,717.50 M107.25,705.50 L109.65,705.50 M107.25,717.50 L109.65,717.50" stroke="#8aa8e0" stroke-width="0.7" fill="none"/>
<path d="M115.60,703.60 L115.60,715.60 M114.40,703.60 L116.80,703.60 M114.40,715.60 L116.80,715.60" stroke="#8aa8e0" stroke-width="0.7" fill="none"/>
<path d="M122.75,700.50 L122.75,712.50 M121.55,700.50 L123.95,700.50 M121.55,712.50 L123.95,712.50" stroke="#8aa8e0" stroke-width="0.7" fill="none"/>
<path d="M129.90,653.30 L129.90,669.30 M128.70,653.30 L131.10,653.30 M128.70,669.30 L131.10,669.30" stroke="#8aa8e0" stroke-width="0.7" fill="none"/>
<path d="M137.05,663.30 L137.05,679.30 M135.85,663.30 L138.25,663.30 M135.85,679.30 L138.25,679.30" stroke="#8aa8e0" stroke-width="0.7" fill="none"/>
<path d="M144.20,662.80 L144.20,678.80 M143.00,662.80 L145.40,662.80 M143.00,678.80 L145.40,678.80" stroke="#8aa8e0" stroke-width="0.7" fill="none"/>
<path d="M151.35,660.80 L151.35,676.80 M150.15,660.80 L152.55,660.80 M150.15,676.80 L152.55,676.80" stroke="#8aa8e0" stroke-width="0.7" fill="none"/>
<path d="M158.50,650.00 L158.50,664.00 M157.30,650.00 L159.70,650.00 M157.30,664.00 L159.70,664.00" stroke="#8aa8e0" stroke-width="0.7" fill="none"/>
<path d="M165.65,658.00 L165.65,672.00 M164.45,658.00 L166.85,658.00 M164.45,672.00 L166.85,672.00" stroke="#8aa8e0" stroke-width="0.7" fill="none"/>
<path d="M172.80,657.50 L172.80,671.50 M171.60,657.50 L174.00,657.50 M171.60,671.50 L174.00,671.50" stroke="#8aa8e0" stroke-width="0.7" fill="none"/>
<path d="M179.95,657.50 L179.95,671.50 M178.75,657.50 L181.15,657.50 M178.75,671.50 L181.15,671.50" stroke="#8aa8e0" stroke-width="0.7" fill="none"/>
<path d="M187.10,689.00 L187.10,713.00 M185.90,689.00 L188.30,689.00 M185.90,713.00 L188.30,713.00" stroke="#8aa8e0" stroke-width="0.7" fill="none"/>
<path d="M194.25,704.00 L194.25,728.00 M193.05,704.00 L195.45,704.00 M193.05,728.00 L195.45,728.00" stroke="#8aa8e0" stroke-width="0.7" fill="none"/>
<path d="M201.40,716.50 L201.40,740.50 M200.20,716.50 L202.60,716.50 M200.20,740.50 L202.60,740.50" stroke="#8aa8e0" stroke-width="0.7" fill="none"/>
<path d="M208.55,727.50 L208.55,751.50 M207.35,727.50 L209.75,727.50 M207.35,751.50 L209.75,751.50" stroke="#8aa8e0" stroke-width="0.7" fill="none"/>
<polyline points="72.70,738.20 79.85,737.50 87.00,734.80 94.15,732.70 101.30,708.50 108.45,711.50 115.60,709.60 122.75,706.50 129.90,661.30 137.05,671.30 144.20,670.80 151.35,668.80 158.50,657.00 165.65,665.00 172.80,664.50 179.95,664.50 187.10,701.00 194.25,716.00 201.40,728.50 208.55,739.50" fill="none" stroke="#6a96e8" stroke-width="1.0"/>
<circle cx="72.70" cy="738.20" r="2.1" fill="#6a8ad8" stroke="#3a56a0" stroke-width="0.8"/>
<circle cx="79.85" cy="737.50" r="2.1" fill="#6a8ad8" stroke="#3a56a0" stroke-width="0.8"/>
<circle cx="87.00" cy="734.80" r="2.1" fill="#6a8ad8" stroke="#3a56a0" stroke-width="0.8"/>
<circle cx="94.15" cy="732.70" r="2.1" fill="#6a8ad8" stroke="#3a56a0" stroke-width="0.8"/>
<circle cx="101.30" cy="708.50" r="2.1" fill="#6a8ad8" stroke="#3a56a0" stroke-width="0.8"/>
<circle cx="108.45" cy="711.50" r="2.1" fill="#6a8ad8" stroke="#3a56a0" stroke-width="0.8"/>
<circle cx="115.60" cy="709.60" r="2.1" fill="#6a8ad8" stroke="#3a56a0" stroke-width="0.8"/>
<circle cx="122.75" cy="706.50" r="2.1" fill="#6a8ad8" stroke="#3a56a0" stroke-width="0.8"/>
<circle cx="129.90" cy="661.30" r="2.1" fill="#6a8ad8" stroke="#3a56a0" stroke-width="0.8"/>
<circle cx="137.05" cy="671.30" r="2.1" fill="#6a8ad8" stroke="#3a56a0" stroke-width="0.8"/>
<circle cx="144.20" cy="670.80" r="2.1" fill="#6a8ad8" stroke="#3a56a0" stroke-width="0.8"/>
<circle cx="151.35" cy="668.80" r="2.1" fill="#6a8ad8" stroke="#3a56a0" stroke-width="0.8"/>
<circle cx="158.50" cy="657.00" r="2.1" fill="#6a8ad8" stroke="#3a56a0" stroke-width="0.8"/>
<circle cx="165.65" cy="665.00" r="2.1" fill="#6a8ad8" stroke="#3a56a0" stroke-width="0.8"/>
<circle cx="172.80" cy="664.50" r="2.1" fill="#6a8ad8" stroke="#3a56a0" stroke-width="0.8"/>
<circle cx="179.95" cy="664.50" r="2.1" fill="#6a8ad8" stroke="#3a56a0" stroke-width="0.8"/>
<circle cx="187.10" cy="701.00" r="2.1" fill="#6a8ad8" stroke="#3a56a0" stroke-width="0.8"/>
<circle cx="194.25" cy="716.00" r="2.1" fill="#6a8ad8" stroke="#3a56a0" stroke-width="0.8"/>
<circle cx="201.40" cy="728.50" r="2.1" fill="#6a8ad8" stroke="#3a56a0" stroke-width="0.8"/>
<circle cx="208.55" cy="739.50" r="2.1" fill="#6a8ad8" stroke="#3a56a0" stroke-width="0.8"/>
<path d="M72.70,743.70 L72.70,749.70 M71.50,743.70 L73.90,743.70 M71.50,749.70 L73.90,749.70" stroke="#555" stroke-width="0.7" fill="none"/>
<path d="M79.85,743.30 L79.85,749.30 M78.65,743.30 L81.05,743.30 M78.65,749.30 L81.05,749.30" stroke="#555" stroke-width="0.7" fill="none"/>
<path d="M87.00,742.00 L87.00,748.00 M85.80,742.00 L88.20,742.00 M85.80,748.00 L88.20,748.00" stroke="#555" stroke-width="0.7" fill="none"/>
<path d="M94.15,740.20 L94.15,746.20 M92.95,740.20 L95.35,740.20 M92.95,746.20 L95.35,746.20" stroke="#555" stroke-width="0.7" fill="none"/>
<path d="M101.30,712.80 L101.30,722.80 M100.10,712.80 L102.50,712.80 M100.10,722.80 L102.50,722.80" stroke="#555" stroke-width="0.7" fill="none"/>
<path d="M108.45,713.80 L108.45,723.80 M107.25,713.80 L109.65,713.80 M107.25,723.80 L109.65,723.80" stroke="#555" stroke-width="0.7" fill="none"/>
<path d="M115.60,711.50 L115.60,721.50 M114.40,711.50 L116.80,711.50 M114.40,721.50 L116.80,721.50" stroke="#555" stroke-width="0.7" fill="none"/>
<path d="M122.75,707.00 L122.75,717.00 M121.55,707.00 L123.95,707.00 M121.55,717.00 L123.95,717.00" stroke="#555" stroke-width="0.7" fill="none"/>
<path d="M129.90,647.00 L129.90,659.00 M128.70,647.00 L131.10,647.00 M128.70,659.00 L131.10,659.00" stroke="#555" stroke-width="0.7" fill="none"/>
<path d="M137.05,656.00 L137.05,668.00 M135.85,656.00 L138.25,656.00 M135.85,668.00 L138.25,668.00" stroke="#555" stroke-width="0.7" fill="none"/>
<path d="M144.20,653.50 L144.20,665.50 M143.00,653.50 L145.40,653.50 M143.00,665.50 L145.40,665.50" stroke="#555" stroke-width="0.7" fill="none"/>
<path d="M151.35,646.00 L151.35,658.00 M150.15,646.00 L152.55,646.00 M150.15,658.00 L152.55,658.00" stroke="#555" stroke-width="0.7" fill="none"/>
<path d="M158.50,642.50 L158.50,652.50 M157.30,642.50 L159.70,642.50 M157.30,652.50 L159.70,652.50" stroke="#555" stroke-width="0.7" fill="none"/>
<path d="M165.65,652.00 L165.65,662.00 M164.45,652.00 L166.85,652.00 M164.45,662.00 L166.85,662.00" stroke="#555" stroke-width="0.7" fill="none"/>
<path d="M172.80,652.50 L172.80,662.50 M171.60,652.50 L174.00,652.50 M171.60,662.50 L174.00,662.50" stroke="#555" stroke-width="0.7" fill="none"/>
<path d="M179.95,652.00 L179.95,662.00 M178.75,652.00 L181.15,652.00 M178.75,662.00 L181.15,662.00" stroke="#555" stroke-width="0.7" fill="none"/>
<path d="M187.10,663.00 L187.10,679.00 M185.90,663.00 L188.30,663.00 M185.90,679.00 L188.30,679.00" stroke="#555" stroke-width="0.7" fill="none"/>
<path d="M194.25,704.00 L194.25,720.00 M193.05,704.00 L195.45,704.00 M193.05,720.00 L195.45,720.00" stroke="#555" stroke-width="0.7" fill="none"/>
<path d="M201.40,730.00 L201.40,742.00 M200.20,730.00 L202.60,730.00 M200.20,742.00 L202.60,742.00" stroke="#555" stroke-width="0.7" fill="none"/>
<path d="M208.55,747.00 L208.55,757.00 M207.35,747.00 L209.75,747.00 M207.35,757.00 L209.75,757.00" stroke="#555" stroke-width="0.7" fill="none"/>
<polyline points="72.70,746.70 79.85,746.30 87.00,745.00 94.15,743.20 101.30,717.80 108.45,718.80 115.60,716.50 122.75,712.00 129.90,653.00 137.05,662.00 144.20,659.50 151.35,652.00 158.50,647.50 165.65,657.00 172.80,657.50 179.95,657.00 187.10,671.00 194.25,712.00 201.40,736.00 208.55,752.00" fill="none" stroke="#222" stroke-width="1.0"/>
<circle cx="72.70" cy="746.70" r="2.1" fill="#3a3a3a" stroke="#111" stroke-width="0.8"/>
<circle cx="79.85" cy="746.30" r="2.1" fill="#3a3a3a" stroke="#111" stroke-width="0.8"/>
<circle cx="87.00" cy="745.00" r="2.1" fill="#3a3a3a" stroke="#111" stroke-width="0.8"/>
<circle cx="94.15" cy="743.20" r="2.1" fill="#3a3a3a" stroke="#111" stroke-width="0.8"/>
<circle cx="101.30" cy="717.80" r="2.1" fill="#3a3a3a" stroke="#111" stroke-width="0.8"/>
<circle cx="108.45" cy="718.80" r="2.1" fill="#3a3a3a" stroke="#111" stroke-width="0.8"/>
<circle cx="115.60" cy="716.50" r="2.1" fill="#3a3a3a" stroke="#111" stroke-width="0.8"/>
<circle cx="122.75" cy="712.00" r="2.1" fill="#3a3a3a" stroke="#111" stroke-width="0.8"/>
<circle cx="129.90" cy="653.00" r="2.1" fill="#3a3a3a" stroke="#111" stroke-width="0.8"/>
<circle cx="137.05" cy="662.00" r="2.1" fill="#3a3a3a" stroke="#111" stroke-width="0.8"/>
<circle cx="144.20" cy="659.50" r="2.1" fill="#3a3a3a" stroke="#111" stroke-width="0.8"/>
<circle cx="151.35" cy="652.00" r="2.1" fill="#3a3a3a" stroke="#111" stroke-width="0.8"/>
<circle cx="158.50" cy="647.50" r="2.1" fill="#3a3a3a" stroke="#111" stroke-width="0.8"/>
<circle cx="165.65" cy="657.00" r="2.1" fill="#3a3a3a" stroke="#111" stroke-width="0.8"/>
<circle cx="172.80" cy="657.50" r="2.1" fill="#3a3a3a" stroke="#111" stroke-width="0.8"/>
<circle cx="179.95" cy="657.00" r="2.1" fill="#3a3a3a" stroke="#111" stroke-width="0.8"/>
<circle cx="187.10" cy="671.00" r="2.1" fill="#3a3a3a" stroke="#111" stroke-width="0.8"/>
<circle cx="194.25" cy="712.00" r="2.1" fill="#3a3a3a" stroke="#111" stroke-width="0.8"/>
<circle cx="201.40" cy="736.00" r="2.1" fill="#3a3a3a" stroke="#111" stroke-width="0.8"/>
<circle cx="208.55" cy="752.00" r="2.1" fill="#3a3a3a" stroke="#111" stroke-width="0.8"/>
<text x="100.5" y="604.9" font-size="7.6" font-weight="bold" class="t" text-anchor="middle" textLength="19.4" lengthAdjust="spacingAndGlyphs">CCCP</text>
<text x="129.5" y="604.9" font-size="7.6" font-weight="bold" class="t" text-anchor="middle" textLength="19.4" lengthAdjust="spacingAndGlyphs">CCCP</text>
<text x="155.8" y="604.9" font-size="7.6" font-weight="bold" class="t" text-anchor="middle" textLength="19.4" lengthAdjust="spacingAndGlyphs">CCCP</text>
<text x="188.3" y="604.9" font-size="7.6" font-weight="bold" class="t" text-anchor="middle" textLength="36.3" lengthAdjust="spacingAndGlyphs">antimycine</text>
<rect x="98.10000000000001" y="606.8" width="2.6" height="22.0" fill="#000"/>
<path d="M95.4,628.3 L103.4,628.3 L99.4,636.3 Z" fill="#000"/>
<rect x="125.0" y="606.8" width="2.6" height="22.0" fill="#000"/>
<path d="M122.3,628.3 L130.3,628.3 L126.3,636.3 Z" fill="#000"/>
<rect x="151.89999999999998" y="606.8" width="2.6" height="22.0" fill="#000"/>
<path d="M149.2,628.3 L157.2,628.3 L153.2,636.3 Z" fill="#000"/>
<rect x="180.5" y="606.8" width="2.6" height="22.0" fill="#000"/>
<path d="M177.8,628.3 L185.8,628.3 L181.8,636.3 Z" fill="#000"/>
<line x1="296.3" y1="647.3" x2="296.3" y2="773.8" stroke="#000" stroke-width="1.1"/>
<line x1="296.3" y1="773.8" x2="463.8" y2="773.8" stroke="#000" stroke-width="1.1"/>
<line x1="293.8" y1="647.9" x2="296.3" y2="647.9" stroke="#000" stroke-width="1"/>
<text x="293.3" y="650.78" font-size="8" font-weight="bold" class="t" text-anchor="end">8</text>
<line x1="293.8" y1="679.2" x2="296.3" y2="679.2" stroke="#000" stroke-width="1"/>
<text x="293.3" y="682.08" font-size="8" font-weight="bold" class="t" text-anchor="end">6</text>
<line x1="293.8" y1="710.9" x2="296.3" y2="710.9" stroke="#000" stroke-width="1"/>
<text x="293.3" y="713.78" font-size="8" font-weight="bold" class="t" text-anchor="end">4</text>
<line x1="293.8" y1="742.4" x2="296.3" y2="742.4" stroke="#000" stroke-width="1"/>
<text x="293.3" y="745.28" font-size="8" font-weight="bold" class="t" text-anchor="end">2</text>
<line x1="293.8" y1="773.8" x2="296.3" y2="773.8" stroke="#000" stroke-width="1"/>
<text x="293.3" y="776.68" font-size="8" font-weight="bold" class="t" text-anchor="end">0</text>
<rect x="306.1" y="758.2" width="11.899999999999977" height="15.599999999999909" fill="#000" stroke="#000" stroke-width="0.9"/>
<rect x="323.8" y="764.2" width="11.699999999999989" height="9.599999999999909" fill="#a4a4a4" stroke="#5a5a5a" stroke-width="0.9"/>
<path d="M329.65,764.20 L329.65,761.00 M326.49,761.00 L332.81,761.00" stroke="#5a5a5a" stroke-width="1.15" fill="none"/>
<rect x="341.8" y="758.2" width="11.5" height="15.599999999999909" fill="#0808a8" stroke="#000060" stroke-width="0.9"/>
<rect x="359.5" y="759.2" width="11.800000000000011" height="14.599999999999909" fill="#70a2f0" stroke="#3060b8" stroke-width="0.9"/>
<path d="M365.40,759.20 L365.40,757.00 M362.21,757.00 L368.59,757.00" stroke="#3060b8" stroke-width="1.15" fill="none"/>
<rect x="388.8" y="724.3" width="12.0" height="49.5" fill="#000" stroke="#000" stroke-width="0.9"/>
<path d="M394.80,724.30 L394.80,717.00 M391.56,717.00 L398.04,717.00" stroke="#000" stroke-width="1.15" fill="none"/>
<rect x="406.3" y="740.5" width="12.5" height="33.299999999999955" fill="#a4a4a4" stroke="#5a5a5a" stroke-width="0.9"/>
<path d="M412.55,740.50 L412.55,734.50 M409.18,734.50 L415.93,734.50" stroke="#5a5a5a" stroke-width="1.15" fill="none"/>
<rect x="424.5" y="736.8" width="11.800000000000011" height="37.0" fill="#0808a8" stroke="#000060" stroke-width="0.9"/>
<path d="M430.40,736.80 L430.40,729.50 M427.21,729.50 L433.59,729.50" stroke="#000060" stroke-width="1.15" fill="none"/>
<rect x="442.0" y="738.3" width="12.300000000000011" height="35.5" fill="#70a2f0" stroke="#3060b8" stroke-width="0.9"/>
<path d="M448.15,738.30 L448.15,732.50 M444.83,732.50 L451.47,732.50" stroke="#3060b8" stroke-width="1.15" fill="none"/>
<text x="329.6" y="761.3" font-size="8.5" font-weight="bold" text-anchor="middle" fill="#222">*</text>
<text x="365.4" y="754.8" font-size="9" text-anchor="middle" fill="#2a2a2a">ns</text>
<text x="412.5" y="733.0" font-size="8.5" font-weight="bold" text-anchor="middle" fill="#222">*</text>
<text x="448.2" y="729.6" font-size="9" text-anchor="middle" fill="#2a2a2a">ns</text>
<rect x="302" y="649.6" width="12.6" height="5" fill="#000" stroke="#000" stroke-width="0.8"/>
<text x="321.3" y="655.1" font-size="8.2" font-weight="bold" class="t" textLength="22.5" lengthAdjust="spacingAndGlyphs">DMSO</text>
<rect x="302" y="664.6" width="12.6" height="5" fill="#a4a4a4" stroke="#5a5a5a" stroke-width="0.8"/>
<text x="321.3" y="670.1" font-size="8.2" font-weight="bold" class="t" textLength="49.5" lengthAdjust="spacingAndGlyphs">CB-839 (1µM)</text>
<rect x="302" y="679.4" width="12.6" height="5" fill="#0808a8" stroke="#000060" stroke-width="0.8"/>
<text x="321.3" y="684.9" font-size="8.2" font-weight="bold" class="t" textLength="87.5" lengthAdjust="spacingAndGlyphs">DMSO + dmαKG (5mM)</text>
<rect x="302" y="693.7" width="12.6" height="5" fill="#70a2f0" stroke="#3060b8" stroke-width="0.8"/>
<text x="321.3" y="699.2" font-size="8.2" font-weight="bold" class="t" textLength="114.3" lengthAdjust="spacingAndGlyphs">CB-839 (1µM) + dmαKG (5mM)</text>
<text x="415" y="662.4" font-size="8.2" font-style="italic" font-weight="bold" class="t" textLength="40" lengthAdjust="spacingAndGlyphs">OCI-AML2</text>
<text transform="translate(273.8,710.5) rotate(-90)" font-size="9.2" font-weight="bold" class="s" text-anchor="middle" textLength="86.9" lengthAdjust="spacingAndGlyphs">OCR (arbitrary unit,</text>
<text transform="translate(283.3,710.5) rotate(-90)" font-size="9.2" font-weight="bold" class="s" text-anchor="middle" textLength="85" lengthAdjust="spacingAndGlyphs">control to baseline)</text>
<text x="338" y="786.8" font-size="8.6" font-weight="bold" class="s" text-anchor="middle" textLength="33.5" lengthAdjust="spacingAndGlyphs">baseline</text>
<text x="421.3" y="786.8" font-size="8.6" font-weight="bold" class="s" text-anchor="middle" textLength="23" lengthAdjust="spacingAndGlyphs">CCCP</text>
<text x="38.0" y="828.4" font-size="10.5" font-weight="bold" class="s">F</text>
<line x1="103.4" y1="858.8" x2="103.4" y2="996.3" stroke="#b0b0dc" stroke-width="1.1"/>
<line x1="131.75" y1="858.8" x2="131.75" y2="996.3" stroke="#b0b0dc" stroke-width="1.1"/>
<line x1="160.0" y1="858.8" x2="160.0" y2="996.3" stroke="#b0b0dc" stroke-width="1.1"/>
<line x1="188.25" y1="858.8" x2="188.25" y2="996.3" stroke="#b0b0dc" stroke-width="1.1"/>
<line x1="79.5" y1="858.8" x2="79.5" y2="996.5" stroke="#666" stroke-width="1"/>
<line x1="79.5" y1="996.5" x2="223.8" y2="996.5" stroke="#666" stroke-width="1"/>
<line x1="77.7" y1="872.5" x2="79.5" y2="872.5" stroke="#666" stroke-width="1"/>
<text x="76.7" y="873.764" font-size="4.9" font-weight="bold" class="t" text-anchor="end" fill="#111">250</text>
<line x1="77.7" y1="896.5" x2="79.5" y2="896.5" stroke="#666" stroke-width="1"/>
<text x="76.7" y="898.664" font-size="4.9" font-weight="bold" class="t" text-anchor="end" fill="#111">200</text>
<line x1="77.7" y1="922.5" x2="79.5" y2="922.5" stroke="#666" stroke-width="1"/>
<text x="76.7" y="923.864" font-size="4.9" font-weight="bold" class="t" text-anchor="end" fill="#111">150</text>
<line x1="77.7" y1="946.5" x2="79.5" y2="946.5" stroke="#666" stroke-width="1"/>
<text x="76.7" y="948.664" font-size="4.9" font-weight="bold" class="t" text-anchor="end" fill="#111">100</text>
<line x1="77.7" y1="971.5" x2="79.5" y2="971.5" stroke="#666" stroke-width="1"/>
<text x="76.7" y="973.264" font-size="4.9" font-weight="bold" class="t" text-anchor="end" fill="#111">50</text>
<line x1="77.7" y1="996.5" x2="79.5" y2="996.5" stroke="#666" stroke-width="1"/>
<text x="76.7" y="998.064" font-size="4.9" font-weight="bold" class="t" text-anchor="end" fill="#111">0</text>
<line x1="79.5" y1="996.5" x2="79.5" y2="998.3" stroke="#666" stroke-width="1"/>
<text x="79" y="1002.5749999999999" font-size="4.9" font-weight="bold" class="t" text-anchor="middle" fill="#111">0</text>
<line x1="119.5" y1="996.5" x2="119.5" y2="998.3" stroke="#666" stroke-width="1"/>
<text x="119.3" y="1002.5749999999999" font-size="4.9" font-weight="bold" class="t" text-anchor="middle" fill="#111">50</text>
<line x1="160.5" y1="996.5" x2="160.5" y2="998.3" stroke="#666" stroke-width="1"/>
<text x="160" y="1002.5749999999999" font-size="4.9" font-weight="bold" class="t" text-anchor="middle" fill="#111">100</text>
<line x1="200.5" y1="996.5" x2="200.5" y2="998.3" stroke="#666" stroke-width="1"/>
<text x="200" y="1002.5749999999999" font-size="4.9" font-weight="bold" class="t" text-anchor="middle" fill="#111">150</text>
<text transform="translate(61.5,921.5) rotate(-90)" font-size="5.4" font-weight="bold" class="t" text-anchor="middle" textLength="44.2" lengthAdjust="spacingAndGlyphs" fill="#111">OCR pMoles/min</text>
<text x="160" y="1009.6" font-size="5.2" font-weight="bold" class="t" text-anchor="middle" textLength="27.5" lengthAdjust="spacingAndGlyphs" fill="#111">TIME (min)</text>
<path d="M80.40,978.60 L80.40,982.60 M79.20,978.60 L81.60,978.60 M79.20,982.60 L81.60,982.60" stroke="#a0a0a0" stroke-width="0.7" fill="none"/>
<path d="M87.46,976.30 L87.46,980.30 M86.26,976.30 L88.66,976.30 M86.26,980.30 L88.66,980.30" stroke="#a0a0a0" stroke-width="0.7" fill="none"/>
<path d="M94.52,975.60 L94.52,979.60 M93.32,975.60 L95.72,975.60 M93.32,979.60 L95.72,979.60" stroke="#a0a0a0" stroke-width="0.7" fill="none"/>
<path d="M101.58,975.20 L101.58,979.20 M100.38,975.20 L102.78,975.20 M100.38,979.20 L102.78,979.20" stroke="#a0a0a0" stroke-width="0.7" fill="none"/>
<path d="M108.64,948.50 L108.64,956.50 M107.44,948.50 L109.84,948.50 M107.44,956.50 L109.84,956.50" stroke="#a0a0a0" stroke-width="0.7" fill="none"/>
<path d="M115.70,954.25 L115.70,962.25 M114.50,954.25 L116.90,954.25 M114.50,962.25 L116.90,962.25" stroke="#a0a0a0" stroke-width="0.7" fill="none"/>
<path d="M122.76,954.25 L122.76,962.25 M121.56,954.25 L123.96,954.25 M121.56,962.25 L123.96,962.25" stroke="#a0a0a0" stroke-width="0.7" fill="none"/>
<path d="M129.82,953.50 L129.82,961.50 M128.62,953.50 L131.02,953.50 M128.62,961.50 L131.02,961.50" stroke="#a0a0a0" stroke-width="0.7" fill="none"/>
<path d="M136.88,944.50 L136.88,950.50 M135.68,944.50 L138.08,944.50 M135.68,950.50 L138.08,950.50" stroke="#a0a0a0" stroke-width="0.7" fill="none"/>
<path d="M143.94,949.00 L143.94,955.00 M142.74,949.00 L145.14,949.00 M142.74,955.00 L145.14,955.00" stroke="#a0a0a0" stroke-width="0.7" fill="none"/>
<path d="M151.00,950.75 L151.00,956.75 M149.80,950.75 L152.20,950.75 M149.80,956.75 L152.20,956.75" stroke="#a0a0a0" stroke-width="0.7" fill="none"/>
<path d="M158.06,952.50 L158.06,958.50 M156.86,952.50 L159.26,952.50 M156.86,958.50 L159.26,958.50" stroke="#a0a0a0" stroke-width="0.7" fill="none"/>
<path d="M165.12,972.50 L165.12,976.50 M163.92,972.50 L166.32,972.50 M163.92,976.50 L166.32,976.50" stroke="#a0a0a0" stroke-width="0.7" fill="none"/>
<path d="M172.18,968.50 L172.18,972.50 M170.98,968.50 L173.38,968.50 M170.98,972.50 L173.38,972.50" stroke="#a0a0a0" stroke-width="0.7" fill="none"/>
<path d="M179.24,970.50 L179.24,974.50 M178.04,970.50 L180.44,970.50 M178.04,974.50 L180.44,974.50" stroke="#a0a0a0" stroke-width="0.7" fill="none"/>
<path d="M186.30,971.75 L186.30,975.75 M185.10,971.75 L187.50,971.75 M185.10,975.75 L187.50,975.75" stroke="#a0a0a0" stroke-width="0.7" fill="none"/>
<path d="M193.36,986.50 L193.36,988.50 M192.16,986.50 L194.56,986.50 M192.16,988.50 L194.56,988.50" stroke="#a0a0a0" stroke-width="0.7" fill="none"/>
<path d="M200.42,987.75 L200.42,989.75 M199.22,987.75 L201.62,987.75 M199.22,989.75 L201.62,989.75" stroke="#a0a0a0" stroke-width="0.7" fill="none"/>
<path d="M207.48,987.75 L207.48,989.75 M206.28,987.75 L208.68,987.75 M206.28,989.75 L208.68,989.75" stroke="#a0a0a0" stroke-width="0.7" fill="none"/>
<path d="M214.54,989.00 L214.54,991.00 M213.34,989.00 L215.74,989.00 M213.34,991.00 L215.74,991.00" stroke="#a0a0a0" stroke-width="0.7" fill="none"/>
<polyline points="80.40,980.60 87.46,978.30 94.52,977.60 101.58,977.20 108.64,952.50 115.70,958.25 122.76,958.25 129.82,957.50 136.88,947.50 143.94,952.00 151.00,953.75 158.06,955.50 165.12,974.50 172.18,970.50 179.24,972.50 186.30,973.75 193.36,987.50 200.42,988.75 207.48,988.75 214.54,990.00" fill="none" stroke="#999" stroke-width="0.9"/>
<circle cx="80.40" cy="980.60" r="2.1" fill="#888" stroke="#5a5a5a" stroke-width="0.8"/>
<circle cx="87.46" cy="978.30" r="2.1" fill="#888" stroke="#5a5a5a" stroke-width="0.8"/>
<circle cx="94.52" cy="977.60" r="2.1" fill="#888" stroke="#5a5a5a" stroke-width="0.8"/>
<circle cx="101.58" cy="977.20" r="2.1" fill="#888" stroke="#5a5a5a" stroke-width="0.8"/>
<circle cx="108.64" cy="952.50" r="2.1" fill="#888" stroke="#5a5a5a" stroke-width="0.8"/>
<circle cx="115.70" cy="958.25" r="2.1" fill="#888" stroke="#5a5a5a" stroke-width="0.8"/>
<circle cx="122.76" cy="958.25" r="2.1" fill="#888" stroke="#5a5a5a" stroke-width="0.8"/>
<circle cx="129.82" cy="957.50" r="2.1" fill="#888" stroke="#5a5a5a" stroke-width="0.8"/>
<circle cx="136.88" cy="947.50" r="2.1" fill="#888" stroke="#5a5a5a" stroke-width="0.8"/>
<circle cx="143.94" cy="952.00" r="2.1" fill="#888" stroke="#5a5a5a" stroke-width="0.8"/>
<circle cx="151.00" cy="953.75" r="2.1" fill="#888" stroke="#5a5a5a" stroke-width="0.8"/>
<circle cx="158.06" cy="955.50" r="2.1" fill="#888" stroke="#5a5a5a" stroke-width="0.8"/>
<circle cx="165.12" cy="974.50" r="2.1" fill="#888" stroke="#5a5a5a" stroke-width="0.8"/>
<circle cx="172.18" cy="970.50" r="2.1" fill="#888" stroke="#5a5a5a" stroke-width="0.8"/>
<circle cx="179.24" cy="972.50" r="2.1" fill="#888" stroke="#5a5a5a" stroke-width="0.8"/>
<circle cx="186.30" cy="973.75" r="2.1" fill="#888" stroke="#5a5a5a" stroke-width="0.8"/>
<circle cx="193.36" cy="987.50" r="2.1" fill="#888" stroke="#5a5a5a" stroke-width="0.8"/>
<circle cx="200.42" cy="988.75" r="2.1" fill="#888" stroke="#5a5a5a" stroke-width="0.8"/>
<circle cx="207.48" cy="988.75" r="2.1" fill="#888" stroke="#5a5a5a" stroke-width="0.8"/>
<circle cx="214.54" cy="990.00" r="2.1" fill="#888" stroke="#5a5a5a" stroke-width="0.8"/>
<path d="M80.40,952.50 L80.40,962.50 M79.20,952.50 L81.60,952.50 M79.20,962.50 L81.60,962.50" stroke="#8aa8e0" stroke-width="0.7" fill="none"/>
<path d="M87.46,950.50 L87.46,958.50 M86.26,950.50 L88.66,950.50 M86.26,958.50 L88.66,958.50" stroke="#8aa8e0" stroke-width="0.7" fill="none"/>
<path d="M94.52,950.00 L94.52,958.00 M93.32,950.00 L95.72,950.00 M93.32,958.00 L95.72,958.00" stroke="#8aa8e0" stroke-width="0.7" fill="none"/>
<path d="M101.58,949.50 L101.58,957.50 M100.38,949.50 L102.78,949.50 M100.38,957.50 L102.78,957.50" stroke="#8aa8e0" stroke-width="0.7" fill="none"/>
<path d="M108.64,910.80 L108.64,926.80 M107.44,910.80 L109.84,910.80 M107.44,926.80 L109.84,926.80" stroke="#8aa8e0" stroke-width="0.7" fill="none"/>
<path d="M115.70,923.50 L115.70,939.50 M114.50,923.50 L116.90,923.50 M114.50,939.50 L116.90,939.50" stroke="#8aa8e0" stroke-width="0.7" fill="none"/>
<path d="M122.76,923.50 L122.76,939.50 M121.56,923.50 L123.96,923.50 M121.56,939.50 L123.96,939.50" stroke="#8aa8e0" stroke-width="0.7" fill="none"/>
<path d="M129.82,923.50 L129.82,939.50 M128.62,923.50 L131.02,923.50 M128.62,939.50 L131.02,939.50" stroke="#8aa8e0" stroke-width="0.7" fill="none"/>
<path d="M136.88,901.80 L136.88,919.80 M135.68,901.80 L138.08,901.80 M135.68,919.80 L138.08,919.80" stroke="#8aa8e0" stroke-width="0.7" fill="none"/>
<path d="M143.94,903.50 L143.94,921.50 M142.74,903.50 L145.14,903.50 M142.74,921.50 L145.14,921.50" stroke="#8aa8e0" stroke-width="0.7" fill="none"/>
<path d="M151.00,903.50 L151.00,921.50 M149.80,903.50 L152.20,903.50 M149.80,921.50 L152.20,921.50" stroke="#8aa8e0" stroke-width="0.7" fill="none"/>
<path d="M158.06,904.70 L158.06,922.70 M156.86,904.70 L159.26,904.70 M156.86,922.70 L159.26,922.70" stroke="#8aa8e0" stroke-width="0.7" fill="none"/>
<path d="M165.12,913.50 L165.12,931.50 M163.92,913.50 L166.32,913.50 M163.92,931.50 L166.32,931.50" stroke="#8aa8e0" stroke-width="0.7" fill="none"/>
<path d="M172.18,913.50 L172.18,931.50 M170.98,913.50 L173.38,913.50 M170.98,931.50 L173.38,931.50" stroke="#8aa8e0" stroke-width="0.7" fill="none"/>
<path d="M179.24,917.25 L179.24,935.25 M178.04,917.25 L180.44,917.25 M178.04,935.25 L180.44,935.25" stroke="#8aa8e0" stroke-width="0.7" fill="none"/>
<path d="M186.30,917.25 L186.30,935.25 M185.10,917.25 L187.50,917.25 M185.10,935.25 L187.50,935.25" stroke="#8aa8e0" stroke-width="0.7" fill="none"/>
<path d="M193.36,970.00 L193.36,976.00 M192.16,970.00 L194.56,970.00 M192.16,976.00 L194.56,976.00" stroke="#8aa8e0" stroke-width="0.7" fill="none"/>
<path d="M200.42,973.25 L200.42,979.25 M199.22,973.25 L201.62,973.25 M199.22,979.25 L201.62,979.25" stroke="#8aa8e0" stroke-width="0.7" fill="none"/>
<path d="M207.48,977.00 L207.48,983.00 M206.28,977.00 L208.68,977.00 M206.28,983.00 L208.68,983.00" stroke="#8aa8e0" stroke-width="0.7" fill="none"/>
<path d="M214.54,980.75 L214.54,986.75 M213.34,980.75 L215.74,980.75 M213.34,986.75 L215.74,986.75" stroke="#8aa8e0" stroke-width="0.7" fill="none"/>
<polyline points="80.40,957.50 87.46,954.50 94.52,954.00 101.58,953.50 108.64,918.80 115.70,931.50 122.76,931.50 129.82,931.50 136.88,910.80 143.94,912.50 151.00,912.50 158.06,913.70 165.12,922.50 172.18,922.50 179.24,926.25 186.30,926.25 193.36,973.00 200.42,976.25 207.48,980.00 214.54,983.75" fill="none" stroke="#6a96e8" stroke-width="1.0"/>
<circle cx="80.40" cy="957.50" r="2.1" fill="#6a8ad8" stroke="#3a56a0" stroke-width="0.8"/>
<circle cx="87.46" cy="954.50" r="2.1" fill="#6a8ad8" stroke="#3a56a0" stroke-width="0.8"/>
<circle cx="94.52" cy="954.00" r="2.1" fill="#6a8ad8" stroke="#3a56a0" stroke-width="0.8"/>
<circle cx="101.58" cy="953.50" r="2.1" fill="#6a8ad8" stroke="#3a56a0" stroke-width="0.8"/>
<circle cx="108.64" cy="918.80" r="2.1" fill="#6a8ad8" stroke="#3a56a0" stroke-width="0.8"/>
<circle cx="115.70" cy="931.50" r="2.1" fill="#6a8ad8" stroke="#3a56a0" stroke-width="0.8"/>
<circle cx="122.76" cy="931.50" r="2.1" fill="#6a8ad8" stroke="#3a56a0" stroke-width="0.8"/>
<circle cx="129.82" cy="931.50" r="2.1" fill="#6a8ad8" stroke="#3a56a0" stroke-width="0.8"/>
<circle cx="136.88" cy="910.80" r="2.1" fill="#6a8ad8" stroke="#3a56a0" stroke-width="0.8"/>
<circle cx="143.94" cy="912.50" r="2.1" fill="#6a8ad8" stroke="#3a56a0" stroke-width="0.8"/>
<circle cx="151.00" cy="912.50" r="2.1" fill="#6a8ad8" stroke="#3a56a0" stroke-width="0.8"/>
<circle cx="158.06" cy="913.70" r="2.1" fill="#6a8ad8" stroke="#3a56a0" stroke-width="0.8"/>
<circle cx="165.12" cy="922.50" r="2.1" fill="#6a8ad8" stroke="#3a56a0" stroke-width="0.8"/>
<circle cx="172.18" cy="922.50" r="2.1" fill="#6a8ad8" stroke="#3a56a0" stroke-width="0.8"/>
<circle cx="179.24" cy="926.25" r="2.1" fill="#6a8ad8" stroke="#3a56a0" stroke-width="0.8"/>
<circle cx="186.30" cy="926.25" r="2.1" fill="#6a8ad8" stroke="#3a56a0" stroke-width="0.8"/>
<circle cx="193.36" cy="973.00" r="2.1" fill="#6a8ad8" stroke="#3a56a0" stroke-width="0.8"/>
<circle cx="200.42" cy="976.25" r="2.1" fill="#6a8ad8" stroke="#3a56a0" stroke-width="0.8"/>
<circle cx="207.48" cy="980.00" r="2.1" fill="#6a8ad8" stroke="#3a56a0" stroke-width="0.8"/>
<circle cx="214.54" cy="983.75" r="2.1" fill="#6a8ad8" stroke="#3a56a0" stroke-width="0.8"/>
<path d="M80.40,947.00 L80.40,959.00 M79.20,947.00 L81.60,947.00 M79.20,959.00 L81.60,959.00" stroke="#5a5ab0" stroke-width="0.7" fill="none"/>
<path d="M87.46,950.00 L87.46,958.00 M86.26,950.00 L88.66,950.00 M86.26,958.00 L88.66,958.00" stroke="#5a5ab0" stroke-width="0.7" fill="none"/>
<path d="M94.52,950.00 L94.52,958.00 M93.32,950.00 L95.72,950.00 M93.32,958.00 L95.72,958.00" stroke="#5a5ab0" stroke-width="0.7" fill="none"/>
<path d="M101.58,950.00 L101.58,958.00 M100.38,950.00 L102.78,950.00 M100.38,958.00 L102.78,958.00" stroke="#5a5ab0" stroke-width="0.7" fill="none"/>
<path d="M108.64,902.80 L108.64,918.80 M107.44,902.80 L109.84,902.80 M107.44,918.80 L109.84,918.80" stroke="#5a5ab0" stroke-width="0.7" fill="none"/>
<path d="M115.70,911.40 L115.70,927.40 M114.50,911.40 L116.90,911.40 M114.50,927.40 L116.90,927.40" stroke="#5a5ab0" stroke-width="0.7" fill="none"/>
<path d="M122.76,911.40 L122.76,927.40 M121.56,911.40 L123.96,911.40 M121.56,927.40 L123.96,927.40" stroke="#5a5ab0" stroke-width="0.7" fill="none"/>
<path d="M129.82,911.40 L129.82,927.40 M128.62,911.40 L131.02,911.40 M128.62,927.40 L131.02,927.40" stroke="#5a5ab0" stroke-width="0.7" fill="none"/>
<path d="M136.88,882.30 L136.88,902.30 M135.68,882.30 L138.08,882.30 M135.68,902.30 L138.08,902.30" stroke="#5a5ab0" stroke-width="0.7" fill="none"/>
<path d="M143.94,888.70 L143.94,908.70 M142.74,888.70 L145.14,888.70 M142.74,908.70 L145.14,908.70" stroke="#5a5ab0" stroke-width="0.7" fill="none"/>
<path d="M151.00,892.10 L151.00,912.10 M149.80,892.10 L152.20,892.10 M149.80,912.10 L152.20,912.10" stroke="#5a5ab0" stroke-width="0.7" fill="none"/>
<path d="M158.06,894.40 L158.06,914.40 M156.86,894.40 L159.26,894.40 M156.86,914.40 L159.26,914.40" stroke="#5a5ab0" stroke-width="0.7" fill="none"/>
<path d="M165.12,899.75 L165.12,917.75 M163.92,899.75 L166.32,899.75 M163.92,917.75 L166.32,917.75" stroke="#5a5ab0" stroke-width="0.7" fill="none"/>
<path d="M172.18,900.50 L172.18,918.50 M170.98,900.50 L173.38,900.50 M170.98,918.50 L173.38,918.50" stroke="#5a5ab0" stroke-width="0.7" fill="none"/>
<path d="M179.24,903.50 L179.24,921.50 M178.04,903.50 L180.44,903.50 M178.04,921.50 L180.44,921.50" stroke="#5a5ab0" stroke-width="0.7" fill="none"/>
<path d="M186.30,903.50 L186.30,921.50 M185.10,903.50 L187.50,903.50 M185.10,921.50 L187.50,921.50" stroke="#5a5ab0" stroke-width="0.7" fill="none"/>
<path d="M193.36,970.00 L193.36,976.00 M192.16,970.00 L194.56,970.00 M192.16,976.00 L194.56,976.00" stroke="#5a5ab0" stroke-width="0.7" fill="none"/>
<path d="M200.42,975.50 L200.42,979.50 M199.22,975.50 L201.62,975.50 M199.22,979.50 L201.62,979.50" stroke="#5a5ab0" stroke-width="0.7" fill="none"/>
<path d="M207.48,978.00 L207.48,982.00 M206.28,978.00 L208.68,978.00 M206.28,982.00 L208.68,982.00" stroke="#5a5ab0" stroke-width="0.7" fill="none"/>
<path d="M214.54,979.25 L214.54,983.25 M213.34,979.25 L215.74,979.25 M213.34,983.25 L215.74,983.25" stroke="#5a5ab0" stroke-width="0.7" fill="none"/>
<polyline points="80.40,953.00 87.46,954.00 94.52,954.00 101.58,954.00 108.64,910.80 115.70,919.40 122.76,919.40 129.82,919.40 136.88,892.30 143.94,898.70 151.00,902.10 158.06,904.40 165.12,908.75 172.18,909.50 179.24,912.50 186.30,912.50 193.36,973.00 200.42,977.50 207.48,980.00 214.54,981.25" fill="none" stroke="#2a2ab0" stroke-width="1.1"/>
<circle cx="80.40" cy="953.00" r="2.1" fill="#3c3ca8" stroke="#1a1a70" stroke-width="0.8"/>
<circle cx="87.46" cy="954.00" r="2.1" fill="#3c3ca8" stroke="#1a1a70" stroke-width="0.8"/>
<circle cx="94.52" cy="954.00" r="2.1" fill="#3c3ca8" stroke="#1a1a70" stroke-width="0.8"/>
<circle cx="101.58" cy="954.00" r="2.1" fill="#3c3ca8" stroke="#1a1a70" stroke-width="0.8"/>
<circle cx="108.64" cy="910.80" r="2.1" fill="#3c3ca8" stroke="#1a1a70" stroke-width="0.8"/>
<circle cx="115.70" cy="919.40" r="2.1" fill="#3c3ca8" stroke="#1a1a70" stroke-width="0.8"/>
<circle cx="122.76" cy="919.40" r="2.1" fill="#3c3ca8" stroke="#1a1a70" stroke-width="0.8"/>
<circle cx="129.82" cy="919.40" r="2.1" fill="#3c3ca8" stroke="#1a1a70" stroke-width="0.8"/>
<circle cx="136.88" cy="892.30" r="2.1" fill="#3c3ca8" stroke="#1a1a70" stroke-width="0.8"/>
<circle cx="143.94" cy="898.70" r="2.1" fill="#3c3ca8" stroke="#1a1a70" stroke-width="0.8"/>
<circle cx="151.00" cy="902.10" r="2.1" fill="#3c3ca8" stroke="#1a1a70" stroke-width="0.8"/>
<circle cx="158.06" cy="904.40" r="2.1" fill="#3c3ca8" stroke="#1a1a70" stroke-width="0.8"/>
<circle cx="165.12" cy="908.75" r="2.1" fill="#3c3ca8" stroke="#1a1a70" stroke-width="0.8"/>
<circle cx="172.18" cy="909.50" r="2.1" fill="#3c3ca8" stroke="#1a1a70" stroke-width="0.8"/>
<circle cx="179.24" cy="912.50" r="2.1" fill="#3c3ca8" stroke="#1a1a70" stroke-width="0.8"/>
<circle cx="186.30" cy="912.50" r="2.1" fill="#3c3ca8" stroke="#1a1a70" stroke-width="0.8"/>
<circle cx="193.36" cy="973.00" r="2.1" fill="#3c3ca8" stroke="#1a1a70" stroke-width="0.8"/>
<circle cx="200.42" cy="977.50" r="2.1" fill="#3c3ca8" stroke="#1a1a70" stroke-width="0.8"/>
<circle cx="207.48" cy="980.00" r="2.1" fill="#3c3ca8" stroke="#1a1a70" stroke-width="0.8"/>
<circle cx="214.54" cy="981.25" r="2.1" fill="#3c3ca8" stroke="#1a1a70" stroke-width="0.8"/>
<path d="M80.40,944.00 L80.40,956.00 M79.20,944.00 L81.60,944.00 M79.20,956.00 L81.60,956.00" stroke="#555" stroke-width="0.7" fill="none"/>
<path d="M87.46,951.00 L87.46,959.00 M86.26,951.00 L88.66,951.00 M86.26,959.00 L88.66,959.00" stroke="#555" stroke-width="0.7" fill="none"/>
<path d="M94.52,951.00 L94.52,959.00 M93.32,951.00 L95.72,951.00 M93.32,959.00 L95.72,959.00" stroke="#555" stroke-width="0.7" fill="none"/>
<path d="M101.58,952.10 L101.58,960.10 M100.38,952.10 L102.78,952.10 M100.38,960.10 L102.78,960.10" stroke="#555" stroke-width="0.7" fill="none"/>
<path d="M108.64,899.30 L108.64,915.30 M107.44,899.30 L109.84,899.30 M107.44,915.30 L109.84,915.30" stroke="#555" stroke-width="0.7" fill="none"/>
<path d="M115.70,907.40 L115.70,923.40 M114.50,907.40 L116.90,907.40 M114.50,923.40 L116.90,923.40" stroke="#555" stroke-width="0.7" fill="none"/>
<path d="M122.76,907.40 L122.76,923.40 M121.56,907.40 L123.96,907.40 M121.56,923.40 L123.96,923.40" stroke="#555" stroke-width="0.7" fill="none"/>
<path d="M129.82,906.20 L129.82,922.20 M128.62,906.20 L131.02,906.20 M128.62,922.20 L131.02,922.20" stroke="#555" stroke-width="0.7" fill="none"/>
<path d="M136.88,871.90 L136.88,891.90 M135.68,871.90 L138.08,871.90 M135.68,891.90 L138.08,891.90" stroke="#555" stroke-width="0.7" fill="none"/>
<path d="M143.94,880.60 L143.94,900.60 M142.74,880.60 L145.14,880.60 M142.74,900.60 L145.14,900.60" stroke="#555" stroke-width="0.7" fill="none"/>
<path d="M151.00,884.00 L151.00,904.00 M149.80,884.00 L152.20,884.00 M149.80,904.00 L152.20,904.00" stroke="#555" stroke-width="0.7" fill="none"/>
<path d="M158.06,886.30 L158.06,906.30 M156.86,886.30 L159.26,886.30 M156.86,906.30 L159.26,906.30" stroke="#555" stroke-width="0.7" fill="none"/>
<path d="M165.12,901.75 L165.12,919.75 M163.92,901.75 L166.32,901.75 M163.92,919.75 L166.32,919.75" stroke="#555" stroke-width="0.7" fill="none"/>
<path d="M172.18,901.75 L172.18,919.75 M170.98,901.75 L173.38,901.75 M170.98,919.75 L173.38,919.75" stroke="#555" stroke-width="0.7" fill="none"/>
<path d="M179.24,907.25 L179.24,925.25 M178.04,907.25 L180.44,907.25 M178.04,925.25 L180.44,925.25" stroke="#555" stroke-width="0.7" fill="none"/>
<path d="M186.30,911.50 L186.30,929.50 M185.10,911.50 L187.50,911.50 M185.10,929.50 L187.50,929.50" stroke="#555" stroke-width="0.7" fill="none"/>
<path d="M193.36,964.00 L193.36,970.00 M192.16,964.00 L194.56,964.00 M192.16,970.00 L194.56,970.00" stroke="#555" stroke-width="0.7" fill="none"/>
<path d="M200.42,971.75 L200.42,975.75 M199.22,971.75 L201.62,971.75 M199.22,975.75 L201.62,975.75" stroke="#555" stroke-width="0.7" fill="none"/>
<path d="M207.48,973.00 L207.48,977.00 M206.28,973.00 L208.68,973.00 M206.28,977.00 L208.68,977.00" stroke="#555" stroke-width="0.7" fill="none"/>
<path d="M214.54,974.25 L214.54,978.25 M213.34,974.25 L215.74,974.25 M213.34,978.25 L215.74,978.25" stroke="#555" stroke-width="0.7" fill="none"/>
<polyline points="80.40,950.00 87.46,955.00 94.52,955.00 101.58,956.10 108.64,907.30 115.70,915.40 122.76,915.40 129.82,914.20 136.88,881.90 143.94,890.60 151.00,894.00 158.06,896.30 165.12,910.75 172.18,910.75 179.24,916.25 186.30,920.50 193.36,967.00 200.42,973.75 207.48,975.00 214.54,976.25" fill="none" stroke="#222244" stroke-width="1.0"/>
<circle cx="80.40" cy="950.00" r="2.1" fill="#2a2a5a" stroke="#10102a" stroke-width="0.8"/>
<circle cx="87.46" cy="955.00" r="2.1" fill="#2a2a5a" stroke="#10102a" stroke-width="0.8"/>
<circle cx="94.52" cy="955.00" r="2.1" fill="#2a2a5a" stroke="#10102a" stroke-width="0.8"/>
<circle cx="101.58" cy="956.10" r="2.1" fill="#2a2a5a" stroke="#10102a" stroke-width="0.8"/>
<circle cx="108.64" cy="907.30" r="2.1" fill="#2a2a5a" stroke="#10102a" stroke-width="0.8"/>
<circle cx="115.70" cy="915.40" r="2.1" fill="#2a2a5a" stroke="#10102a" stroke-width="0.8"/>
<circle cx="122.76" cy="915.40" r="2.1" fill="#2a2a5a" stroke="#10102a" stroke-width="0.8"/>
<circle cx="129.82" cy="914.20" r="2.1" fill="#2a2a5a" stroke="#10102a" stroke-width="0.8"/>
<circle cx="136.88" cy="881.90" r="2.1" fill="#2a2a5a" stroke="#10102a" stroke-width="0.8"/>
<circle cx="143.94" cy="890.60" r="2.1" fill="#2a2a5a" stroke="#10102a" stroke-width="0.8"/>
<circle cx="151.00" cy="894.00" r="2.1" fill="#2a2a5a" stroke="#10102a" stroke-width="0.8"/>
<circle cx="158.06" cy="896.30" r="2.1" fill="#2a2a5a" stroke="#10102a" stroke-width="0.8"/>
<circle cx="165.12" cy="910.75" r="2.1" fill="#2a2a5a" stroke="#10102a" stroke-width="0.8"/>
<circle cx="172.18" cy="910.75" r="2.1" fill="#2a2a5a" stroke="#10102a" stroke-width="0.8"/>
<circle cx="179.24" cy="916.25" r="2.1" fill="#2a2a5a" stroke="#10102a" stroke-width="0.8"/>
<circle cx="186.30" cy="920.50" r="2.1" fill="#2a2a5a" stroke="#10102a" stroke-width="0.8"/>
<circle cx="193.36" cy="967.00" r="2.1" fill="#2a2a5a" stroke="#10102a" stroke-width="0.8"/>
<circle cx="200.42" cy="973.75" r="2.1" fill="#2a2a5a" stroke="#10102a" stroke-width="0.8"/>
<circle cx="207.48" cy="975.00" r="2.1" fill="#2a2a5a" stroke="#10102a" stroke-width="0.8"/>
<circle cx="214.54" cy="976.25" r="2.1" fill="#2a2a5a" stroke="#10102a" stroke-width="0.8"/>
<text x="104.0" y="827.2" font-size="7.6" font-weight="bold" class="t" text-anchor="middle" textLength="19.6" lengthAdjust="spacingAndGlyphs">CCCP</text>
<text x="133" y="827.2" font-size="7.6" font-weight="bold" class="t" text-anchor="middle" textLength="20" lengthAdjust="spacingAndGlyphs">CCCP</text>
<text x="160" y="827.2" font-size="7.6" font-weight="bold" class="t" text-anchor="middle" textLength="20" lengthAdjust="spacingAndGlyphs">CCCP</text>
<text x="192" y="827.2" font-size="7.6" font-weight="bold" class="t" text-anchor="middle" textLength="36.5" lengthAdjust="spacingAndGlyphs">antimycine</text>
<rect x="102.0" y="829.6" width="2.6" height="21.100000000000023" fill="#000"/>
<path d="M99.3,850.2 L107.3,850.2 L103.3,858.2 Z" fill="#000"/>
<rect x="129.0" y="829.6" width="2.6" height="21.100000000000023" fill="#000"/>
<path d="M126.30000000000001,850.2 L134.3,850.2 L130.3,858.2 Z" fill="#000"/>
<rect x="156.0" y="829.6" width="2.6" height="21.100000000000023" fill="#000"/>
<path d="M153.3,850.2 L161.3,850.2 L157.3,858.2 Z" fill="#000"/>
<rect x="184.2" y="829.6" width="2.6" height="21.100000000000023" fill="#000"/>
<path d="M181.5,850.2 L189.5,850.2 L185.5,858.2 Z" fill="#000"/>
<line x1="302" y1="863.8" x2="302" y2="992.9" stroke="#000" stroke-width="1.1"/>
<line x1="302" y1="992.9" x2="481.3" y2="992.9" stroke="#000" stroke-width="1.1"/>
<line x1="299.5" y1="864.3" x2="302" y2="864.3" stroke="#000" stroke-width="1"/>
<text x="299" y="867.396" font-size="8.6" font-weight="bold" class="s" text-anchor="end">4</text>
<line x1="299.5" y1="896.5" x2="302" y2="896.5" stroke="#000" stroke-width="1"/>
<text x="299" y="899.596" font-size="8.6" font-weight="bold" class="s" text-anchor="end">3</text>
<line x1="299.5" y1="928.9" x2="302" y2="928.9" stroke="#000" stroke-width="1"/>
<text x="299" y="931.996" font-size="8.6" font-weight="bold" class="s" text-anchor="end">2</text>
<line x1="299.5" y1="960.9" x2="302" y2="960.9" stroke="#000" stroke-width="1"/>
<text x="299" y="963.996" font-size="8.6" font-weight="bold" class="s" text-anchor="end">1</text>
<line x1="299.5" y1="992.9" x2="302" y2="992.9" stroke="#000" stroke-width="1"/>
<text x="299" y="995.996" font-size="8.6" font-weight="bold" class="s" text-anchor="end">0</text>
<rect x="312.4" y="961.1" width="12.600000000000023" height="31.799999999999955" fill="#000" stroke="#000" stroke-width="0.9"/>
<rect x="331.3" y="978.8" width="12.5" height="14.100000000000023" fill="#a4a4a4" stroke="#5a5a5a" stroke-width="0.9"/>
<path d="M337.55,978.80 L337.55,978.00 M334.18,978.00 L340.93,978.00" stroke="#5a5a5a" stroke-width="1.15" fill="none"/>
<rect x="350.0" y="961.1" width="12.5" height="31.799999999999955" fill="#0808a8" stroke="#000060" stroke-width="0.9"/>
<rect x="368.8" y="961.8" width="13.199999999999989" height="31.100000000000023" fill="#70a2f0" stroke="#3060b8" stroke-width="0.9"/>
<path d="M375.40,961.80 L375.40,960.50 M371.84,960.50 L378.96,960.50" stroke="#3060b8" stroke-width="1.15" fill="none"/>
<rect x="400.5" y="924.5" width="13.300000000000011" height="68.39999999999998" fill="#000" stroke="#000" stroke-width="0.9"/>
<path d="M407.15,924.50 L407.15,912.50 M403.56,912.50 L410.74,912.50" stroke="#000" stroke-width="1.15" fill="none"/>
<rect x="419.5" y="959.3" width="13.0" height="33.60000000000002" fill="#a4a4a4" stroke="#5a5a5a" stroke-width="0.9"/>
<rect x="438.8" y="932.5" width="13.0" height="60.39999999999998" fill="#0808a8" stroke="#000060" stroke-width="0.9"/>
<path d="M445.30,932.50 L445.30,925.80 M441.79,925.80 L448.81,925.80" stroke="#000060" stroke-width="1.15" fill="none"/>
<rect x="457.5" y="925.5" width="13.0" height="67.39999999999998" fill="#70a2f0" stroke="#3060b8" stroke-width="0.9"/>
<path d="M464.00,925.50 L464.00,920.80 M460.49,920.80 L467.51,920.80" stroke="#3060b8" stroke-width="1.15" fill="none"/>
<text x="337.5" y="976.8" font-size="8.5" font-weight="bold" text-anchor="middle" fill="#222">*</text>
<text x="375.4" y="957.5" font-size="9" text-anchor="middle" fill="#2a2a2a">ns</text>
<text x="426" y="955.6" font-size="8.5" font-weight="bold" text-anchor="middle" fill="#222">*</text>
<text x="464" y="916.5" font-size="9" text-anchor="middle" fill="#2a2a2a">ns</text>
<rect x="307.9" y="854.9" width="13.6" height="5.2" fill="#000" stroke="#000" stroke-width="0.8"/>
<text x="328" y="860.6" font-size="8.4" font-weight="bold" class="t" textLength="67" lengthAdjust="spacingAndGlyphs">GAC WT + DMSO</text>
<rect x="307.9" y="869.4" width="13.6" height="5.2" fill="#a4a4a4" stroke="#5a5a5a" stroke-width="0.8"/>
<text x="328" y="875.1" font-size="8.4" font-weight="bold" class="t" textLength="96.5" lengthAdjust="spacingAndGlyphs">GAC WT + CB-839 (1µM)</text>
<rect x="307.9" y="884.4" width="13.6" height="5.2" fill="#0808a8" stroke="#000060" stroke-width="0.8"/>
<text x="328" y="890.1" font-size="8.4" font-weight="bold" class="t" textLength="80.7" lengthAdjust="spacingAndGlyphs">GAC K320A + DMSO</text>
<rect x="307.9" y="899.1" width="13.6" height="5.2" fill="#70a2f0" stroke="#3060b8" stroke-width="0.8"/>
<text x="328" y="904.8000000000001" font-size="8.4" font-weight="bold" class="t" textLength="109.5" lengthAdjust="spacingAndGlyphs">GAC K320A + CB-839 (1µM)</text>
<text x="428.8" y="855.6" font-size="8.4" font-style="italic" font-weight="bold" class="t" textLength="42.5" lengthAdjust="spacingAndGlyphs">OCI-AML2</text>
<text transform="translate(278.3,929.2) rotate(-90)" font-size="9.4" font-weight="bold" class="s" text-anchor="middle" textLength="85.8" lengthAdjust="spacingAndGlyphs">OCR (arbitrary unit,</text>
<text transform="translate(288.2,929.2) rotate(-90)" font-size="9.4" font-weight="bold" class="s" text-anchor="middle" textLength="84.4" lengthAdjust="spacingAndGlyphs">control to baseline)</text>
<text x="346.3" y="1005.6" font-size="8.8" font-weight="bold" class="s" text-anchor="middle" textLength="34" lengthAdjust="spacingAndGlyphs">baseline</text>
<text x="435.5" y="1005.6" font-size="8.8" font-weight="bold" class="s" text-anchor="middle" textLength="24" lengthAdjust="spacingAndGlyphs">CCCP</text>
<text x="38.6" y="1051.4" font-size="10.5" font-weight="bold" class="s">G</text>
<text x="168.75" y="1052.8" font-size="11.4" textLength="45.8" lengthAdjust="spacingAndGlyphs">GAC WT</text>
<text x="229.5" y="1052.8" font-size="11.4" textLength="55.1" lengthAdjust="spacingAndGlyphs">GAC K320</text>
<text x="294.5" y="1052.8" font-size="11.4" textLength="44.7" lengthAdjust="spacingAndGlyphs">GAC WT</text>
<text x="355.1" y="1052.8" font-size="11.4" textLength="56.2" lengthAdjust="spacingAndGlyphs">GAC K320</text>
<path d="M163.2,1076.5 L163.2,1070.2 Q163.2,1067.2 166.2,1067.2 L187.25,1067.2 Q190.25,1067.2 190.25,1064.2 L190.25,1060.5 M190.25,1064.2 Q190.25,1067.2 193.25,1067.2 L214.3,1067.2 Q217.3,1067.2 217.3,1070.2 L217.3,1076.5" fill="none" stroke="#222" stroke-width="1"/>
<path d="M224.6,1076.5 L224.6,1070.2 Q224.6,1067.2 227.6,1067.2 L249.05,1067.2 Q252.05,1067.2 252.05,1064.2 L252.05,1060.5 M252.05,1064.2 Q252.05,1067.2 255.05,1067.2 L276.5,1067.2 Q279.5,1067.2 279.5,1070.2 L279.5,1076.5" fill="none" stroke="#222" stroke-width="1"/>
<path d="M288.9,1076.5 L288.9,1070.2 Q288.9,1067.2 291.9,1067.2 L313.15,1067.2 Q316.15,1067.2 316.15,1064.2 L316.15,1060.5 M316.15,1064.2 Q316.15,1067.2 319.15,1067.2 L340.4,1067.2 Q343.4,1067.2 343.4,1070.2 L343.4,1076.5" fill="none" stroke="#222" stroke-width="1"/>
<path d="M350.3,1076.5 L350.3,1070.2 Q350.3,1067.2 353.3,1067.2 L374.9,1067.2 Q377.9,1067.2 377.9,1064.2 L377.9,1060.5 M377.9,1064.2 Q377.9,1067.2 380.9,1067.2 L402.5,1067.2 Q405.5,1067.2 405.5,1070.2 L405.5,1076.5" fill="none" stroke="#222" stroke-width="1"/>
<text x="148.8" y="1096.6" font-size="11" font-weight="bold" class="s" text-anchor="end" textLength="52.5" lengthAdjust="spacingAndGlyphs">Doxy (6h)</text>
<text x="148.8" y="1118.6" font-size="11" font-weight="bold" class="s" text-anchor="end" textLength="90" lengthAdjust="spacingAndGlyphs">CB-839 1µM (6h)</text>
<text x="152.6" y="1142.8" font-size="11.2" text-anchor="end" textLength="25" lengthAdjust="spacingAndGlyphs">GAC</text>
<text x="149.6" y="1168.5" font-size="11.2" text-anchor="end" textLength="18.3" lengthAdjust="spacingAndGlyphs">p85</text>
<rect x="175.4" y="1088.2" width="3.2" height="1.4" fill="#222" stroke="none" stroke-width="1"/>
<rect x="208.70000000000002" y="1088.2" width="3.2" height="1.4" fill="#222" stroke="none" stroke-width="1"/>
<rect x="232.9" y="1088.2" width="3.2" height="1.4" fill="#222" stroke="none" stroke-width="1"/>
<rect x="263.4" y="1088.2" width="3.2" height="1.4" fill="#222" stroke="none" stroke-width="1"/>
<text x="296.5" y="1092.2" font-size="10" font-weight="bold" class="s" text-anchor="middle" fill="#111">+</text>
<text x="325.6" y="1092.2" font-size="10" font-weight="bold" class="s" text-anchor="middle" fill="#111">+</text>
<text x="355.1" y="1092.2" font-size="10" font-weight="bold" class="s" text-anchor="middle" fill="#111">+</text>
<text x="390.6" y="1092.2" font-size="10" font-weight="bold" class="s" text-anchor="middle" fill="#111">+</text>
<rect x="175.4" y="1111.7" width="3.2" height="1.4" fill="#222" stroke="none" stroke-width="1"/>
<text x="210.3" y="1115.9" font-size="10" font-weight="bold" class="s" text-anchor="middle" fill="#111">+</text>
<rect x="232.9" y="1111.7" width="3.2" height="1.4" fill="#222" stroke="none" stroke-width="1"/>
<text x="265" y="1115.9" font-size="10" font-weight="bold" class="s" text-anchor="middle" fill="#111">+</text>
<rect x="294.9" y="1111.7" width="3.2" height="1.4" fill="#222" stroke="none" stroke-width="1"/>
<text x="325.6" y="1115.9" font-size="10" font-weight="bold" class="s" text-anchor="middle" fill="#111">+</text>
<rect x="353.5" y="1111.7" width="3.2" height="1.4" fill="#222" stroke="none" stroke-width="1"/>
<text x="390.6" y="1115.9" font-size="10" font-weight="bold" class="s" text-anchor="middle" fill="#111">+</text>
<rect x="162" y="1127" width="242.8" height="19.3" fill="#e0e0e0" stroke="none" stroke-width="1"/>
<rect x="162" y="1153.8" width="242.8" height="22.2" fill="#e0e0e0" stroke="none" stroke-width="1"/>
<ellipse cx="177.30" cy="1136.50" rx="10.50" ry="1.70" fill="#0a0a0a" fill-opacity="0.7" filter="url(#b07)"/>
<ellipse cx="204.90" cy="1135.70" rx="11.00" ry="1.60" fill="#0a0a0a" fill-opacity="0.65" filter="url(#b07)"/>
<ellipse cx="233.80" cy="1135.50" rx="10.00" ry="1.60" fill="#0a0a0a" fill-opacity="0.7" filter="url(#b07)"/>
<ellipse cx="267.50" cy="1136.20" rx="11.50" ry="1.70" fill="#0a0a0a" fill-opacity="0.72" filter="url(#b07)"/>
<rect x="291.20" y="1130.40" width="20.00" height="5.20" rx="2.60" fill="#0a0a0a" fill-opacity="1.0" filter="url(#b1)"/>
<rect x="318.90" y="1130.40" width="21.00" height="5.20" rx="2.60" fill="#0a0a0a" fill-opacity="1.0" filter="url(#b1)"/>
<rect x="349.30" y="1131.90" width="19.00" height="3.40" rx="1.70" fill="#0a0a0a" fill-opacity="0.75" filter="url(#b1)"/>
<rect x="378.50" y="1129.80" width="21.00" height="5.60" rx="2.80" fill="#0a0a0a" fill-opacity="1.0" filter="url(#b1)"/>
<rect x="291.20" y="1137.10" width="20.00" height="2.40" rx="1.20" fill="#0a0a0a" fill-opacity="0.15" filter="url(#b1)"/>
<rect x="318.90" y="1137.10" width="21.00" height="2.40" rx="1.20" fill="#0a0a0a" fill-opacity="0.12" filter="url(#b1)"/>
<rect x="348.80" y="1137.60" width="20.00" height="3.40" rx="1.70" fill="#0a0a0a" fill-opacity="0.9" filter="url(#b1)"/>
<rect x="378.50" y="1136.80" width="21.00" height="3.20" rx="1.60" fill="#0a0a0a" fill-opacity="0.75" filter="url(#b1)"/>
<rect x="166.30" y="1159.40" width="22.00" height="4.20" rx="2.10" fill="#0a0a0a" fill-opacity="0.95" filter="url(#b1)"/>
<rect x="193.40" y="1160.40" width="23.00" height="4.20" rx="2.10" fill="#0a0a0a" fill-opacity="0.8" filter="url(#b1)"/>
<rect x="222.30" y="1160.70" width="23.00" height="4.20" rx="2.10" fill="#0a0a0a" fill-opacity="0.85" filter="url(#b1)"/>
<rect x="256.00" y="1160.70" width="23.00" height="4.20" rx="2.10" fill="#0a0a0a" fill-opacity="0.85" filter="url(#b1)"/>
<rect x="290.20" y="1160.70" width="22.00" height="4.20" rx="2.10" fill="#0a0a0a" fill-opacity="0.8" filter="url(#b1)"/>
<rect x="318.40" y="1160.70" width="22.00" height="4.20" rx="2.10" fill="#0a0a0a" fill-opacity="0.8" filter="url(#b1)"/>
<rect x="347.30" y="1160.90" width="23.00" height="4.20" rx="2.10" fill="#0a0a0a" fill-opacity="0.9" filter="url(#b1)"/>
<rect x="377.50" y="1160.50" width="23.00" height="4.20" rx="2.10" fill="#0a0a0a" fill-opacity="0.85" filter="url(#b1)"/>
</svg></body></html>
